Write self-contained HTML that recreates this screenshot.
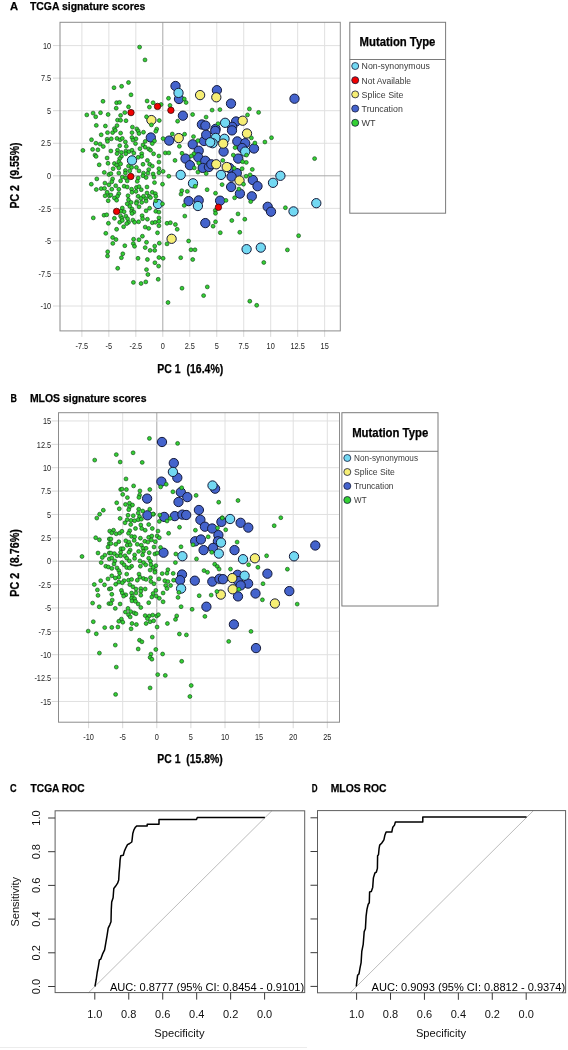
<!DOCTYPE html>
<html><head><meta charset="utf-8"><style>
html,body{margin:0;padding:0;background:#fff;}
svg{display:block;font-family:"Liberation Sans", sans-serif;filter:blur(0.4px);}
</style></head><body>
<svg width="568" height="1050" viewBox="0 0 568 1050">
<rect width="568" height="1050" fill="#fff"/>
<line x1="81.88" y1="22.3" x2="81.88" y2="330.9" stroke="#e0e0e0" stroke-width="1"/>
<line x1="81.88" y1="330.9" x2="81.88" y2="336.9" stroke="#d8d8d8" stroke-width="1"/>
<text x="81.88" y="349.3" font-size="8.8" font-weight="normal" text-anchor="middle" fill="#1e1e1e" transform="translate(81.88,0) scale(0.84,1) translate(-81.88,0)">-7.5</text>
<line x1="108.85" y1="22.3" x2="108.85" y2="330.9" stroke="#e0e0e0" stroke-width="1"/>
<line x1="108.85" y1="330.9" x2="108.85" y2="336.9" stroke="#d8d8d8" stroke-width="1"/>
<text x="108.85" y="349.3" font-size="8.8" font-weight="normal" text-anchor="middle" fill="#1e1e1e" transform="translate(108.85,0) scale(0.84,1) translate(-108.85,0)">-5</text>
<line x1="135.83" y1="22.3" x2="135.83" y2="330.9" stroke="#e0e0e0" stroke-width="1"/>
<line x1="135.83" y1="330.9" x2="135.83" y2="336.9" stroke="#d8d8d8" stroke-width="1"/>
<text x="135.83" y="349.3" font-size="8.8" font-weight="normal" text-anchor="middle" fill="#1e1e1e" transform="translate(135.83,0) scale(0.84,1) translate(-135.83,0)">-2.5</text>
<line x1="162.8" y1="22.3" x2="162.8" y2="330.9" stroke="#a8a8a8" stroke-width="1"/>
<line x1="162.8" y1="330.9" x2="162.8" y2="336.9" stroke="#d8d8d8" stroke-width="1"/>
<text x="162.8" y="349.3" font-size="8.8" font-weight="normal" text-anchor="middle" fill="#1e1e1e" transform="translate(162.8,0) scale(0.84,1) translate(-162.8,0)">0</text>
<line x1="189.78" y1="22.3" x2="189.78" y2="330.9" stroke="#e0e0e0" stroke-width="1"/>
<line x1="189.78" y1="330.9" x2="189.78" y2="336.9" stroke="#d8d8d8" stroke-width="1"/>
<text x="189.78" y="349.3" font-size="8.8" font-weight="normal" text-anchor="middle" fill="#1e1e1e" transform="translate(189.78,0) scale(0.84,1) translate(-189.78,0)">2.5</text>
<line x1="216.75" y1="22.3" x2="216.75" y2="330.9" stroke="#e0e0e0" stroke-width="1"/>
<line x1="216.75" y1="330.9" x2="216.75" y2="336.9" stroke="#d8d8d8" stroke-width="1"/>
<text x="216.75" y="349.3" font-size="8.8" font-weight="normal" text-anchor="middle" fill="#1e1e1e" transform="translate(216.75,0) scale(0.84,1) translate(-216.75,0)">5</text>
<line x1="243.73" y1="22.3" x2="243.73" y2="330.9" stroke="#e0e0e0" stroke-width="1"/>
<line x1="243.73" y1="330.9" x2="243.73" y2="336.9" stroke="#d8d8d8" stroke-width="1"/>
<text x="243.73" y="349.3" font-size="8.8" font-weight="normal" text-anchor="middle" fill="#1e1e1e" transform="translate(243.73,0) scale(0.84,1) translate(-243.73,0)">7.5</text>
<line x1="270.7" y1="22.3" x2="270.7" y2="330.9" stroke="#e0e0e0" stroke-width="1"/>
<line x1="270.7" y1="330.9" x2="270.7" y2="336.9" stroke="#d8d8d8" stroke-width="1"/>
<text x="270.7" y="349.3" font-size="8.8" font-weight="normal" text-anchor="middle" fill="#1e1e1e" transform="translate(270.7,0) scale(0.84,1) translate(-270.7,0)">10</text>
<line x1="297.68" y1="22.3" x2="297.68" y2="330.9" stroke="#e0e0e0" stroke-width="1"/>
<line x1="297.68" y1="330.9" x2="297.68" y2="336.9" stroke="#d8d8d8" stroke-width="1"/>
<text x="297.68" y="349.3" font-size="8.8" font-weight="normal" text-anchor="middle" fill="#1e1e1e" transform="translate(297.68,0) scale(0.84,1) translate(-297.68,0)">12.5</text>
<line x1="324.65" y1="22.3" x2="324.65" y2="330.9" stroke="#e0e0e0" stroke-width="1"/>
<line x1="324.65" y1="330.9" x2="324.65" y2="336.9" stroke="#d8d8d8" stroke-width="1"/>
<text x="324.65" y="349.3" font-size="8.8" font-weight="normal" text-anchor="middle" fill="#1e1e1e" transform="translate(324.65,0) scale(0.84,1) translate(-324.65,0)">15</text>
<line x1="60" y1="306" x2="340.3" y2="306" stroke="#e0e0e0" stroke-width="1"/>
<line x1="53" y1="306" x2="60" y2="306" stroke="#d8d8d8" stroke-width="1"/>
<text x="51.2" y="309.2" font-size="8.8" font-weight="normal" text-anchor="end" fill="#1e1e1e" transform="translate(51.2,0) scale(0.84,1) translate(-51.2,0)">-10</text>
<line x1="60" y1="273.45" x2="340.3" y2="273.45" stroke="#e0e0e0" stroke-width="1"/>
<line x1="53" y1="273.45" x2="60" y2="273.45" stroke="#d8d8d8" stroke-width="1"/>
<text x="51.2" y="276.65" font-size="8.8" font-weight="normal" text-anchor="end" fill="#1e1e1e" transform="translate(51.2,0) scale(0.84,1) translate(-51.2,0)">-7.5</text>
<line x1="60" y1="240.9" x2="340.3" y2="240.9" stroke="#e0e0e0" stroke-width="1"/>
<line x1="53" y1="240.9" x2="60" y2="240.9" stroke="#d8d8d8" stroke-width="1"/>
<text x="51.2" y="244.1" font-size="8.8" font-weight="normal" text-anchor="end" fill="#1e1e1e" transform="translate(51.2,0) scale(0.84,1) translate(-51.2,0)">-5</text>
<line x1="60" y1="208.35" x2="340.3" y2="208.35" stroke="#e0e0e0" stroke-width="1"/>
<line x1="53" y1="208.35" x2="60" y2="208.35" stroke="#d8d8d8" stroke-width="1"/>
<text x="51.2" y="211.55" font-size="8.8" font-weight="normal" text-anchor="end" fill="#1e1e1e" transform="translate(51.2,0) scale(0.84,1) translate(-51.2,0)">-2.5</text>
<line x1="60" y1="175.8" x2="340.3" y2="175.8" stroke="#a8a8a8" stroke-width="1"/>
<line x1="53" y1="175.8" x2="60" y2="175.8" stroke="#d8d8d8" stroke-width="1"/>
<text x="51.2" y="179" font-size="8.8" font-weight="normal" text-anchor="end" fill="#1e1e1e" transform="translate(51.2,0) scale(0.84,1) translate(-51.2,0)">0</text>
<line x1="60" y1="143.25" x2="340.3" y2="143.25" stroke="#e0e0e0" stroke-width="1"/>
<line x1="53" y1="143.25" x2="60" y2="143.25" stroke="#d8d8d8" stroke-width="1"/>
<text x="51.2" y="146.45" font-size="8.8" font-weight="normal" text-anchor="end" fill="#1e1e1e" transform="translate(51.2,0) scale(0.84,1) translate(-51.2,0)">2.5</text>
<line x1="60" y1="110.7" x2="340.3" y2="110.7" stroke="#e0e0e0" stroke-width="1"/>
<line x1="53" y1="110.7" x2="60" y2="110.7" stroke="#d8d8d8" stroke-width="1"/>
<text x="51.2" y="113.9" font-size="8.8" font-weight="normal" text-anchor="end" fill="#1e1e1e" transform="translate(51.2,0) scale(0.84,1) translate(-51.2,0)">5</text>
<line x1="60" y1="78.15" x2="340.3" y2="78.15" stroke="#e0e0e0" stroke-width="1"/>
<line x1="53" y1="78.15" x2="60" y2="78.15" stroke="#d8d8d8" stroke-width="1"/>
<text x="51.2" y="81.35" font-size="8.8" font-weight="normal" text-anchor="end" fill="#1e1e1e" transform="translate(51.2,0) scale(0.84,1) translate(-51.2,0)">7.5</text>
<line x1="60" y1="45.6" x2="340.3" y2="45.6" stroke="#e0e0e0" stroke-width="1"/>
<line x1="53" y1="45.6" x2="60" y2="45.6" stroke="#d8d8d8" stroke-width="1"/>
<text x="51.2" y="48.8" font-size="8.8" font-weight="normal" text-anchor="end" fill="#1e1e1e" transform="translate(51.2,0) scale(0.84,1) translate(-51.2,0)">10</text>
<rect x="60" y="22.3" width="280.3" height="308.6" fill="none" stroke="#8c8c8c" stroke-width="1"/>
<circle cx="175.5" cy="86" r="4.65" fill="#4463cc" stroke="#151a3a" stroke-width="1.0"/>
<circle cx="179" cy="99" r="4.65" fill="#4463cc" stroke="#151a3a" stroke-width="1.0"/>
<circle cx="216.9" cy="90.2" r="4.65" fill="#4463cc" stroke="#151a3a" stroke-width="1.0"/>
<circle cx="231" cy="103.6" r="4.65" fill="#4463cc" stroke="#151a3a" stroke-width="1.0"/>
<circle cx="182.9" cy="115.7" r="4.65" fill="#4463cc" stroke="#151a3a" stroke-width="1.0"/>
<circle cx="201.9" cy="124.5" r="4.65" fill="#4463cc" stroke="#151a3a" stroke-width="1.0"/>
<circle cx="205.4" cy="125.6" r="4.65" fill="#4463cc" stroke="#151a3a" stroke-width="1.0"/>
<circle cx="236.1" cy="121.5" r="4.65" fill="#4463cc" stroke="#151a3a" stroke-width="1.0"/>
<circle cx="232.2" cy="126.8" r="4.65" fill="#4463cc" stroke="#151a3a" stroke-width="1.0"/>
<circle cx="215.6" cy="128.9" r="4.65" fill="#4463cc" stroke="#151a3a" stroke-width="1.0"/>
<circle cx="294.5" cy="98.7" r="4.65" fill="#4463cc" stroke="#151a3a" stroke-width="1.0"/>
<circle cx="150.8" cy="137.5" r="4.65" fill="#4463cc" stroke="#151a3a" stroke-width="1.0"/>
<circle cx="169.2" cy="140.6" r="4.65" fill="#4463cc" stroke="#151a3a" stroke-width="1.0"/>
<circle cx="192.7" cy="144.3" r="4.65" fill="#4463cc" stroke="#151a3a" stroke-width="1.0"/>
<circle cx="204" cy="141" r="4.65" fill="#4463cc" stroke="#151a3a" stroke-width="1.0"/>
<circle cx="206.2" cy="134.8" r="4.65" fill="#4463cc" stroke="#151a3a" stroke-width="1.0"/>
<circle cx="198.7" cy="150.7" r="4.65" fill="#4463cc" stroke="#151a3a" stroke-width="1.0"/>
<circle cx="185.5" cy="158.6" r="4.65" fill="#4463cc" stroke="#151a3a" stroke-width="1.0"/>
<circle cx="198.3" cy="157.3" r="4.65" fill="#4463cc" stroke="#151a3a" stroke-width="1.0"/>
<circle cx="205.3" cy="160.8" r="4.65" fill="#4463cc" stroke="#151a3a" stroke-width="1.0"/>
<circle cx="189.9" cy="165.2" r="4.65" fill="#4463cc" stroke="#151a3a" stroke-width="1.0"/>
<circle cx="202.7" cy="167.9" r="4.65" fill="#4463cc" stroke="#151a3a" stroke-width="1.0"/>
<circle cx="215.3" cy="130.9" r="4.65" fill="#4463cc" stroke="#151a3a" stroke-width="1.0"/>
<circle cx="232" cy="130.4" r="4.65" fill="#4463cc" stroke="#151a3a" stroke-width="1.0"/>
<circle cx="223.6" cy="151.6" r="4.65" fill="#4463cc" stroke="#151a3a" stroke-width="1.0"/>
<circle cx="237.3" cy="141.4" r="4.65" fill="#4463cc" stroke="#151a3a" stroke-width="1.0"/>
<circle cx="245.2" cy="143.2" r="4.65" fill="#4463cc" stroke="#151a3a" stroke-width="1.0"/>
<circle cx="242.1" cy="148" r="4.65" fill="#4463cc" stroke="#151a3a" stroke-width="1.0"/>
<circle cx="254" cy="148.5" r="4.65" fill="#4463cc" stroke="#151a3a" stroke-width="1.0"/>
<circle cx="238.2" cy="158.6" r="4.65" fill="#4463cc" stroke="#151a3a" stroke-width="1.0"/>
<circle cx="208.9" cy="167" r="4.65" fill="#4463cc" stroke="#151a3a" stroke-width="1.0"/>
<circle cx="211.3" cy="164.3" r="4.65" fill="#4463cc" stroke="#151a3a" stroke-width="1.0"/>
<circle cx="229.4" cy="167.9" r="4.65" fill="#4463cc" stroke="#151a3a" stroke-width="1.0"/>
<circle cx="236.8" cy="173.1" r="4.65" fill="#4463cc" stroke="#151a3a" stroke-width="1.0"/>
<circle cx="231.6" cy="176.7" r="4.65" fill="#4463cc" stroke="#151a3a" stroke-width="1.0"/>
<circle cx="252.8" cy="180" r="4.65" fill="#4463cc" stroke="#151a3a" stroke-width="1.0"/>
<circle cx="188.6" cy="201.1" r="4.65" fill="#4463cc" stroke="#151a3a" stroke-width="1.0"/>
<circle cx="198.7" cy="200.4" r="4.65" fill="#4463cc" stroke="#151a3a" stroke-width="1.0"/>
<circle cx="205.3" cy="223.1" r="4.65" fill="#4463cc" stroke="#151a3a" stroke-width="1.0"/>
<circle cx="231.1" cy="187" r="4.65" fill="#4463cc" stroke="#151a3a" stroke-width="1.0"/>
<circle cx="239.9" cy="193.6" r="4.65" fill="#4463cc" stroke="#151a3a" stroke-width="1.0"/>
<circle cx="257.5" cy="186.2" r="4.65" fill="#4463cc" stroke="#151a3a" stroke-width="1.0"/>
<circle cx="251.8" cy="196.3" r="4.65" fill="#4463cc" stroke="#151a3a" stroke-width="1.0"/>
<circle cx="220.1" cy="200.7" r="4.65" fill="#4463cc" stroke="#151a3a" stroke-width="1.0"/>
<circle cx="267.7" cy="206.8" r="4.65" fill="#4463cc" stroke="#151a3a" stroke-width="1.0"/>
<circle cx="271" cy="211.7" r="4.65" fill="#4463cc" stroke="#151a3a" stroke-width="1.0"/>
<circle cx="178.5" cy="92.9" r="4.65" fill="#72d8f2" stroke="#151a3a" stroke-width="1.0"/>
<circle cx="225.1" cy="122.8" r="4.65" fill="#72d8f2" stroke="#151a3a" stroke-width="1.0"/>
<circle cx="132" cy="160.4" r="4.65" fill="#72d8f2" stroke="#151a3a" stroke-width="1.0"/>
<circle cx="158" cy="204" r="4.65" fill="#72d8f2" stroke="#151a3a" stroke-width="1.0"/>
<circle cx="180.7" cy="174.9" r="4.65" fill="#72d8f2" stroke="#151a3a" stroke-width="1.0"/>
<circle cx="215.7" cy="137.9" r="4.65" fill="#72d8f2" stroke="#151a3a" stroke-width="1.0"/>
<circle cx="224.5" cy="138.8" r="4.65" fill="#72d8f2" stroke="#151a3a" stroke-width="1.0"/>
<circle cx="212.6" cy="143.2" r="4.65" fill="#72d8f2" stroke="#151a3a" stroke-width="1.0"/>
<circle cx="210.2" cy="142.3" r="4.65" fill="#72d8f2" stroke="#151a3a" stroke-width="1.0"/>
<circle cx="245.2" cy="151.6" r="4.65" fill="#72d8f2" stroke="#151a3a" stroke-width="1.0"/>
<circle cx="221" cy="174.9" r="4.65" fill="#72d8f2" stroke="#151a3a" stroke-width="1.0"/>
<circle cx="193" cy="183.3" r="4.65" fill="#72d8f2" stroke="#151a3a" stroke-width="1.0"/>
<circle cx="197.9" cy="206" r="4.65" fill="#72d8f2" stroke="#151a3a" stroke-width="1.0"/>
<circle cx="280.4" cy="175.8" r="4.65" fill="#72d8f2" stroke="#151a3a" stroke-width="1.0"/>
<circle cx="273" cy="182.8" r="4.65" fill="#72d8f2" stroke="#151a3a" stroke-width="1.0"/>
<circle cx="316.3" cy="203.2" r="4.65" fill="#72d8f2" stroke="#151a3a" stroke-width="1.0"/>
<circle cx="293.5" cy="211.4" r="4.65" fill="#72d8f2" stroke="#151a3a" stroke-width="1.0"/>
<circle cx="246.6" cy="249.2" r="4.65" fill="#72d8f2" stroke="#151a3a" stroke-width="1.0"/>
<circle cx="260.8" cy="247.6" r="4.65" fill="#72d8f2" stroke="#151a3a" stroke-width="1.0"/>
<circle cx="200.1" cy="95.1" r="4.65" fill="#f6ee74" stroke="#151a3a" stroke-width="1.0"/>
<circle cx="216.3" cy="97.3" r="4.65" fill="#f6ee74" stroke="#151a3a" stroke-width="1.0"/>
<circle cx="242.7" cy="120.7" r="4.65" fill="#f6ee74" stroke="#151a3a" stroke-width="1.0"/>
<circle cx="151.4" cy="120.1" r="4.65" fill="#f6ee74" stroke="#151a3a" stroke-width="1.0"/>
<circle cx="178.7" cy="138.1" r="4.65" fill="#f6ee74" stroke="#151a3a" stroke-width="1.0"/>
<circle cx="247" cy="133.5" r="4.65" fill="#f6ee74" stroke="#151a3a" stroke-width="1.0"/>
<circle cx="223.2" cy="143.6" r="4.65" fill="#f6ee74" stroke="#151a3a" stroke-width="1.0"/>
<circle cx="216.2" cy="164.3" r="4.65" fill="#f6ee74" stroke="#151a3a" stroke-width="1.0"/>
<circle cx="226.7" cy="167" r="4.65" fill="#f6ee74" stroke="#151a3a" stroke-width="1.0"/>
<circle cx="239.5" cy="180.5" r="4.65" fill="#f6ee74" stroke="#151a3a" stroke-width="1.0"/>
<circle cx="171.6" cy="238.8" r="4.65" fill="#f6ee74" stroke="#151a3a" stroke-width="1.0"/>
<circle cx="139.6" cy="47.1" r="1.95" fill="#33d033" stroke="#14481a" stroke-width="0.65"/>
<circle cx="145" cy="59.9" r="1.95" fill="#33d033" stroke="#14481a" stroke-width="0.65"/>
<circle cx="128.5" cy="82.5" r="1.95" fill="#33d033" stroke="#14481a" stroke-width="0.65"/>
<circle cx="121.6" cy="86.3" r="1.95" fill="#33d033" stroke="#14481a" stroke-width="0.65"/>
<circle cx="114" cy="87.7" r="1.95" fill="#33d033" stroke="#14481a" stroke-width="0.65"/>
<circle cx="131" cy="94.8" r="1.95" fill="#33d033" stroke="#14481a" stroke-width="0.65"/>
<circle cx="103" cy="101.3" r="1.95" fill="#33d033" stroke="#14481a" stroke-width="0.65"/>
<circle cx="116.6" cy="102.7" r="1.95" fill="#33d033" stroke="#14481a" stroke-width="0.65"/>
<circle cx="119.5" cy="102.4" r="1.95" fill="#33d033" stroke="#14481a" stroke-width="0.65"/>
<circle cx="128.5" cy="106.8" r="1.95" fill="#33d033" stroke="#14481a" stroke-width="0.65"/>
<circle cx="116.2" cy="108.2" r="1.95" fill="#33d033" stroke="#14481a" stroke-width="0.65"/>
<circle cx="124.8" cy="112.6" r="1.95" fill="#33d033" stroke="#14481a" stroke-width="0.65"/>
<circle cx="120.6" cy="115.4" r="1.95" fill="#33d033" stroke="#14481a" stroke-width="0.65"/>
<circle cx="117.5" cy="120.1" r="1.95" fill="#33d033" stroke="#14481a" stroke-width="0.65"/>
<circle cx="120.6" cy="120.3" r="1.95" fill="#33d033" stroke="#14481a" stroke-width="0.65"/>
<circle cx="126" cy="120.7" r="1.95" fill="#33d033" stroke="#14481a" stroke-width="0.65"/>
<circle cx="117" cy="125.6" r="1.95" fill="#33d033" stroke="#14481a" stroke-width="0.65"/>
<circle cx="114.4" cy="128.6" r="1.95" fill="#33d033" stroke="#14481a" stroke-width="0.65"/>
<circle cx="132.4" cy="127.1" r="1.95" fill="#33d033" stroke="#14481a" stroke-width="0.65"/>
<circle cx="136.8" cy="128.9" r="1.95" fill="#33d033" stroke="#14481a" stroke-width="0.65"/>
<circle cx="147.1" cy="101" r="1.95" fill="#33d033" stroke="#14481a" stroke-width="0.65"/>
<circle cx="153.1" cy="102.7" r="1.95" fill="#33d033" stroke="#14481a" stroke-width="0.65"/>
<circle cx="149.4" cy="107.1" r="1.95" fill="#33d033" stroke="#14481a" stroke-width="0.65"/>
<circle cx="146.5" cy="116.8" r="1.95" fill="#33d033" stroke="#14481a" stroke-width="0.65"/>
<circle cx="151.4" cy="124.9" r="1.95" fill="#33d033" stroke="#14481a" stroke-width="0.65"/>
<circle cx="156.7" cy="129.1" r="1.95" fill="#33d033" stroke="#14481a" stroke-width="0.65"/>
<circle cx="159.3" cy="120.5" r="1.95" fill="#33d033" stroke="#14481a" stroke-width="0.65"/>
<circle cx="86.8" cy="114.9" r="1.95" fill="#33d033" stroke="#14481a" stroke-width="0.65"/>
<circle cx="93.1" cy="113.1" r="1.95" fill="#33d033" stroke="#14481a" stroke-width="0.65"/>
<circle cx="95.7" cy="116.8" r="1.95" fill="#33d033" stroke="#14481a" stroke-width="0.65"/>
<circle cx="100.5" cy="112.7" r="1.95" fill="#33d033" stroke="#14481a" stroke-width="0.65"/>
<circle cx="108.1" cy="114.5" r="1.95" fill="#33d033" stroke="#14481a" stroke-width="0.65"/>
<circle cx="96.3" cy="125.4" r="1.95" fill="#33d033" stroke="#14481a" stroke-width="0.65"/>
<circle cx="105.4" cy="126" r="1.95" fill="#33d033" stroke="#14481a" stroke-width="0.65"/>
<circle cx="168.5" cy="98.3" r="1.95" fill="#33d033" stroke="#14481a" stroke-width="0.65"/>
<circle cx="184.3" cy="99" r="1.95" fill="#33d033" stroke="#14481a" stroke-width="0.65"/>
<circle cx="186.1" cy="102.5" r="1.95" fill="#33d033" stroke="#14481a" stroke-width="0.65"/>
<circle cx="170" cy="105.4" r="1.95" fill="#33d033" stroke="#14481a" stroke-width="0.65"/>
<circle cx="161.1" cy="104.5" r="1.95" fill="#33d033" stroke="#14481a" stroke-width="0.65"/>
<circle cx="177.6" cy="121.2" r="1.95" fill="#33d033" stroke="#14481a" stroke-width="0.65"/>
<circle cx="192.6" cy="114.5" r="1.95" fill="#33d033" stroke="#14481a" stroke-width="0.65"/>
<circle cx="206.1" cy="117.1" r="1.95" fill="#33d033" stroke="#14481a" stroke-width="0.65"/>
<circle cx="212.1" cy="110.1" r="1.95" fill="#33d033" stroke="#14481a" stroke-width="0.65"/>
<circle cx="219.9" cy="109.6" r="1.95" fill="#33d033" stroke="#14481a" stroke-width="0.65"/>
<circle cx="218.1" cy="123.7" r="1.95" fill="#33d033" stroke="#14481a" stroke-width="0.65"/>
<circle cx="249.4" cy="108.9" r="1.95" fill="#33d033" stroke="#14481a" stroke-width="0.65"/>
<circle cx="247.5" cy="114.9" r="1.95" fill="#33d033" stroke="#14481a" stroke-width="0.65"/>
<circle cx="258.6" cy="112.4" r="1.95" fill="#33d033" stroke="#14481a" stroke-width="0.65"/>
<circle cx="107.5" cy="132.6" r="1.95" fill="#33d033" stroke="#14481a" stroke-width="0.65"/>
<circle cx="101.2" cy="134.8" r="1.95" fill="#33d033" stroke="#14481a" stroke-width="0.65"/>
<circle cx="91.5" cy="139.7" r="1.95" fill="#33d033" stroke="#14481a" stroke-width="0.65"/>
<circle cx="107.1" cy="139.2" r="1.95" fill="#33d033" stroke="#14481a" stroke-width="0.65"/>
<circle cx="107.5" cy="141.4" r="1.95" fill="#33d033" stroke="#14481a" stroke-width="0.65"/>
<circle cx="95.9" cy="143.2" r="1.95" fill="#33d033" stroke="#14481a" stroke-width="0.65"/>
<circle cx="100.1" cy="144.1" r="1.95" fill="#33d033" stroke="#14481a" stroke-width="0.65"/>
<circle cx="103.3" cy="146.5" r="1.95" fill="#33d033" stroke="#14481a" stroke-width="0.65"/>
<circle cx="82.9" cy="150.4" r="1.95" fill="#33d033" stroke="#14481a" stroke-width="0.65"/>
<circle cx="92.6" cy="149.4" r="1.95" fill="#33d033" stroke="#14481a" stroke-width="0.65"/>
<circle cx="97.9" cy="149.8" r="1.95" fill="#33d033" stroke="#14481a" stroke-width="0.65"/>
<circle cx="95" cy="155.1" r="1.95" fill="#33d033" stroke="#14481a" stroke-width="0.65"/>
<circle cx="96.1" cy="156.4" r="1.95" fill="#33d033" stroke="#14481a" stroke-width="0.65"/>
<circle cx="107.1" cy="158" r="1.95" fill="#33d033" stroke="#14481a" stroke-width="0.65"/>
<circle cx="108" cy="163.3" r="1.95" fill="#33d033" stroke="#14481a" stroke-width="0.65"/>
<circle cx="99.2" cy="164.8" r="1.95" fill="#33d033" stroke="#14481a" stroke-width="0.65"/>
<circle cx="104.3" cy="172.4" r="1.95" fill="#33d033" stroke="#14481a" stroke-width="0.65"/>
<circle cx="108.9" cy="174.5" r="1.95" fill="#33d033" stroke="#14481a" stroke-width="0.65"/>
<circle cx="96.8" cy="178.9" r="1.95" fill="#33d033" stroke="#14481a" stroke-width="0.65"/>
<circle cx="112.6" cy="132.6" r="1.95" fill="#33d033" stroke="#14481a" stroke-width="0.65"/>
<circle cx="115.3" cy="130.4" r="1.95" fill="#33d033" stroke="#14481a" stroke-width="0.65"/>
<circle cx="120.6" cy="133.1" r="1.95" fill="#33d033" stroke="#14481a" stroke-width="0.65"/>
<circle cx="132" cy="132.6" r="1.95" fill="#33d033" stroke="#14481a" stroke-width="0.65"/>
<circle cx="138.2" cy="130.9" r="1.95" fill="#33d033" stroke="#14481a" stroke-width="0.65"/>
<circle cx="139" cy="133.5" r="1.95" fill="#33d033" stroke="#14481a" stroke-width="0.65"/>
<circle cx="143.5" cy="132.2" r="1.95" fill="#33d033" stroke="#14481a" stroke-width="0.65"/>
<circle cx="155.8" cy="131.3" r="1.95" fill="#33d033" stroke="#14481a" stroke-width="0.65"/>
<circle cx="111.3" cy="138.8" r="1.95" fill="#33d033" stroke="#14481a" stroke-width="0.65"/>
<circle cx="117" cy="138.4" r="1.95" fill="#33d033" stroke="#14481a" stroke-width="0.65"/>
<circle cx="120.1" cy="139.7" r="1.95" fill="#33d033" stroke="#14481a" stroke-width="0.65"/>
<circle cx="122.3" cy="138.4" r="1.95" fill="#33d033" stroke="#14481a" stroke-width="0.65"/>
<circle cx="132" cy="137.5" r="1.95" fill="#33d033" stroke="#14481a" stroke-width="0.65"/>
<circle cx="136" cy="138.8" r="1.95" fill="#33d033" stroke="#14481a" stroke-width="0.65"/>
<circle cx="132.9" cy="140.1" r="1.95" fill="#33d033" stroke="#14481a" stroke-width="0.65"/>
<circle cx="125.4" cy="141.9" r="1.95" fill="#33d033" stroke="#14481a" stroke-width="0.65"/>
<circle cx="145.2" cy="141.4" r="1.95" fill="#33d033" stroke="#14481a" stroke-width="0.65"/>
<circle cx="154.5" cy="141" r="1.95" fill="#33d033" stroke="#14481a" stroke-width="0.65"/>
<circle cx="135.5" cy="143.6" r="1.95" fill="#33d033" stroke="#14481a" stroke-width="0.65"/>
<circle cx="152.3" cy="143.6" r="1.95" fill="#33d033" stroke="#14481a" stroke-width="0.65"/>
<circle cx="119.7" cy="145.7" r="1.95" fill="#33d033" stroke="#14481a" stroke-width="0.65"/>
<circle cx="126.3" cy="146.3" r="1.95" fill="#33d033" stroke="#14481a" stroke-width="0.65"/>
<circle cx="143" cy="145" r="1.95" fill="#33d033" stroke="#14481a" stroke-width="0.65"/>
<circle cx="145.2" cy="147.2" r="1.95" fill="#33d033" stroke="#14481a" stroke-width="0.65"/>
<circle cx="139.9" cy="148.7" r="1.95" fill="#33d033" stroke="#14481a" stroke-width="0.65"/>
<circle cx="148.7" cy="148.9" r="1.95" fill="#33d033" stroke="#14481a" stroke-width="0.65"/>
<circle cx="150.5" cy="150.2" r="1.95" fill="#33d033" stroke="#14481a" stroke-width="0.65"/>
<circle cx="110.9" cy="151" r="1.95" fill="#33d033" stroke="#14481a" stroke-width="0.65"/>
<circle cx="117.5" cy="150.2" r="1.95" fill="#33d033" stroke="#14481a" stroke-width="0.65"/>
<circle cx="121.4" cy="152.4" r="1.95" fill="#33d033" stroke="#14481a" stroke-width="0.65"/>
<circle cx="125.8" cy="151.1" r="1.95" fill="#33d033" stroke="#14481a" stroke-width="0.65"/>
<circle cx="128.9" cy="151.6" r="1.95" fill="#33d033" stroke="#14481a" stroke-width="0.65"/>
<circle cx="132" cy="150.2" r="1.95" fill="#33d033" stroke="#14481a" stroke-width="0.65"/>
<circle cx="133.8" cy="153.1" r="1.95" fill="#33d033" stroke="#14481a" stroke-width="0.65"/>
<circle cx="117" cy="153.6" r="1.95" fill="#33d033" stroke="#14481a" stroke-width="0.65"/>
<circle cx="125.8" cy="153.8" r="1.95" fill="#33d033" stroke="#14481a" stroke-width="0.65"/>
<circle cx="153.6" cy="153.8" r="1.95" fill="#33d033" stroke="#14481a" stroke-width="0.65"/>
<circle cx="158.9" cy="156" r="1.95" fill="#33d033" stroke="#14481a" stroke-width="0.65"/>
<circle cx="141.7" cy="153.6" r="1.95" fill="#33d033" stroke="#14481a" stroke-width="0.65"/>
<circle cx="121.4" cy="156.4" r="1.95" fill="#33d033" stroke="#14481a" stroke-width="0.65"/>
<circle cx="138.2" cy="157.3" r="1.95" fill="#33d033" stroke="#14481a" stroke-width="0.65"/>
<circle cx="141.7" cy="156.4" r="1.95" fill="#33d033" stroke="#14481a" stroke-width="0.65"/>
<circle cx="119.7" cy="158.6" r="1.95" fill="#33d033" stroke="#14481a" stroke-width="0.65"/>
<circle cx="147.4" cy="160.4" r="1.95" fill="#33d033" stroke="#14481a" stroke-width="0.65"/>
<circle cx="118.8" cy="161.7" r="1.95" fill="#33d033" stroke="#14481a" stroke-width="0.65"/>
<circle cx="158.9" cy="162.1" r="1.95" fill="#33d033" stroke="#14481a" stroke-width="0.65"/>
<circle cx="114.4" cy="163.5" r="1.95" fill="#33d033" stroke="#14481a" stroke-width="0.65"/>
<circle cx="120.6" cy="163.9" r="1.95" fill="#33d033" stroke="#14481a" stroke-width="0.65"/>
<circle cx="143" cy="164.3" r="1.95" fill="#33d033" stroke="#14481a" stroke-width="0.65"/>
<circle cx="149.6" cy="164.3" r="1.95" fill="#33d033" stroke="#14481a" stroke-width="0.65"/>
<circle cx="152.3" cy="166.1" r="1.95" fill="#33d033" stroke="#14481a" stroke-width="0.65"/>
<circle cx="116.6" cy="165.2" r="1.95" fill="#33d033" stroke="#14481a" stroke-width="0.65"/>
<circle cx="128.5" cy="166.1" r="1.95" fill="#33d033" stroke="#14481a" stroke-width="0.65"/>
<circle cx="131.6" cy="167.4" r="1.95" fill="#33d033" stroke="#14481a" stroke-width="0.65"/>
<circle cx="136.4" cy="167.4" r="1.95" fill="#33d033" stroke="#14481a" stroke-width="0.65"/>
<circle cx="113.1" cy="168.7" r="1.95" fill="#33d033" stroke="#14481a" stroke-width="0.65"/>
<circle cx="118.8" cy="167.9" r="1.95" fill="#33d033" stroke="#14481a" stroke-width="0.65"/>
<circle cx="148.7" cy="169.6" r="1.95" fill="#33d033" stroke="#14481a" stroke-width="0.65"/>
<circle cx="158.9" cy="168.7" r="1.95" fill="#33d033" stroke="#14481a" stroke-width="0.65"/>
<circle cx="125.4" cy="170.5" r="1.95" fill="#33d033" stroke="#14481a" stroke-width="0.65"/>
<circle cx="129.8" cy="170.9" r="1.95" fill="#33d033" stroke="#14481a" stroke-width="0.65"/>
<circle cx="139" cy="170.9" r="1.95" fill="#33d033" stroke="#14481a" stroke-width="0.65"/>
<circle cx="118.8" cy="173.1" r="1.95" fill="#33d033" stroke="#14481a" stroke-width="0.65"/>
<circle cx="110.9" cy="173.6" r="1.95" fill="#33d033" stroke="#14481a" stroke-width="0.65"/>
<circle cx="143.5" cy="173.1" r="1.95" fill="#33d033" stroke="#14481a" stroke-width="0.65"/>
<circle cx="147.9" cy="173.1" r="1.95" fill="#33d033" stroke="#14481a" stroke-width="0.65"/>
<circle cx="153.1" cy="174" r="1.95" fill="#33d033" stroke="#14481a" stroke-width="0.65"/>
<circle cx="158.9" cy="172.7" r="1.95" fill="#33d033" stroke="#14481a" stroke-width="0.65"/>
<circle cx="125.4" cy="173.1" r="1.95" fill="#33d033" stroke="#14481a" stroke-width="0.65"/>
<circle cx="122.3" cy="177.1" r="1.95" fill="#33d033" stroke="#14481a" stroke-width="0.65"/>
<circle cx="138.2" cy="178" r="1.95" fill="#33d033" stroke="#14481a" stroke-width="0.65"/>
<circle cx="143" cy="175.8" r="1.95" fill="#33d033" stroke="#14481a" stroke-width="0.65"/>
<circle cx="146.1" cy="177.5" r="1.95" fill="#33d033" stroke="#14481a" stroke-width="0.65"/>
<circle cx="154" cy="177.1" r="1.95" fill="#33d033" stroke="#14481a" stroke-width="0.65"/>
<circle cx="112.6" cy="178.9" r="1.95" fill="#33d033" stroke="#14481a" stroke-width="0.65"/>
<circle cx="125.8" cy="178" r="1.95" fill="#33d033" stroke="#14481a" stroke-width="0.65"/>
<circle cx="91.3" cy="184.2" r="1.95" fill="#33d033" stroke="#14481a" stroke-width="0.65"/>
<circle cx="104.9" cy="183.1" r="1.95" fill="#33d033" stroke="#14481a" stroke-width="0.65"/>
<circle cx="108.9" cy="184.8" r="1.95" fill="#33d033" stroke="#14481a" stroke-width="0.65"/>
<circle cx="96.3" cy="189.5" r="1.95" fill="#33d033" stroke="#14481a" stroke-width="0.65"/>
<circle cx="101.2" cy="188.6" r="1.95" fill="#33d033" stroke="#14481a" stroke-width="0.65"/>
<circle cx="104.5" cy="188.4" r="1.95" fill="#33d033" stroke="#14481a" stroke-width="0.65"/>
<circle cx="107.1" cy="192.3" r="1.95" fill="#33d033" stroke="#14481a" stroke-width="0.65"/>
<circle cx="105.1" cy="195.8" r="1.95" fill="#33d033" stroke="#14481a" stroke-width="0.65"/>
<circle cx="109.3" cy="195.8" r="1.95" fill="#33d033" stroke="#14481a" stroke-width="0.65"/>
<circle cx="108.2" cy="200.7" r="1.95" fill="#33d033" stroke="#14481a" stroke-width="0.65"/>
<circle cx="93.3" cy="217.9" r="1.95" fill="#33d033" stroke="#14481a" stroke-width="0.65"/>
<circle cx="104" cy="215.2" r="1.95" fill="#33d033" stroke="#14481a" stroke-width="0.65"/>
<circle cx="106.7" cy="214.8" r="1.95" fill="#33d033" stroke="#14481a" stroke-width="0.65"/>
<circle cx="108.4" cy="223.3" r="1.95" fill="#33d033" stroke="#14481a" stroke-width="0.65"/>
<circle cx="111.8" cy="181.8" r="1.95" fill="#33d033" stroke="#14481a" stroke-width="0.65"/>
<circle cx="120.6" cy="180.9" r="1.95" fill="#33d033" stroke="#14481a" stroke-width="0.65"/>
<circle cx="127.2" cy="180.9" r="1.95" fill="#33d033" stroke="#14481a" stroke-width="0.65"/>
<circle cx="137.3" cy="181.3" r="1.95" fill="#33d033" stroke="#14481a" stroke-width="0.65"/>
<circle cx="154.5" cy="182.6" r="1.95" fill="#33d033" stroke="#14481a" stroke-width="0.65"/>
<circle cx="115.7" cy="185.7" r="1.95" fill="#33d033" stroke="#14481a" stroke-width="0.65"/>
<circle cx="124.1" cy="186.2" r="1.95" fill="#33d033" stroke="#14481a" stroke-width="0.65"/>
<circle cx="127.2" cy="187" r="1.95" fill="#33d033" stroke="#14481a" stroke-width="0.65"/>
<circle cx="111.8" cy="189.2" r="1.95" fill="#33d033" stroke="#14481a" stroke-width="0.65"/>
<circle cx="118.8" cy="189.2" r="1.95" fill="#33d033" stroke="#14481a" stroke-width="0.65"/>
<circle cx="131.6" cy="189.2" r="1.95" fill="#33d033" stroke="#14481a" stroke-width="0.65"/>
<circle cx="136.4" cy="187.5" r="1.95" fill="#33d033" stroke="#14481a" stroke-width="0.65"/>
<circle cx="139" cy="186.6" r="1.95" fill="#33d033" stroke="#14481a" stroke-width="0.65"/>
<circle cx="141.3" cy="189.7" r="1.95" fill="#33d033" stroke="#14481a" stroke-width="0.65"/>
<circle cx="147" cy="187" r="1.95" fill="#33d033" stroke="#14481a" stroke-width="0.65"/>
<circle cx="132" cy="192.3" r="1.95" fill="#33d033" stroke="#14481a" stroke-width="0.65"/>
<circle cx="136" cy="191.4" r="1.95" fill="#33d033" stroke="#14481a" stroke-width="0.65"/>
<circle cx="147" cy="193" r="1.95" fill="#33d033" stroke="#14481a" stroke-width="0.65"/>
<circle cx="152.3" cy="192.3" r="1.95" fill="#33d033" stroke="#14481a" stroke-width="0.65"/>
<circle cx="155.3" cy="193.6" r="1.95" fill="#33d033" stroke="#14481a" stroke-width="0.65"/>
<circle cx="110.9" cy="195" r="1.95" fill="#33d033" stroke="#14481a" stroke-width="0.65"/>
<circle cx="118.8" cy="193.6" r="1.95" fill="#33d033" stroke="#14481a" stroke-width="0.65"/>
<circle cx="117.5" cy="196.3" r="1.95" fill="#33d033" stroke="#14481a" stroke-width="0.65"/>
<circle cx="128" cy="195.7" r="1.95" fill="#33d033" stroke="#14481a" stroke-width="0.65"/>
<circle cx="138.2" cy="196.3" r="1.95" fill="#33d033" stroke="#14481a" stroke-width="0.65"/>
<circle cx="143.5" cy="196.3" r="1.95" fill="#33d033" stroke="#14481a" stroke-width="0.65"/>
<circle cx="149.2" cy="196.3" r="1.95" fill="#33d033" stroke="#14481a" stroke-width="0.65"/>
<circle cx="155.8" cy="196.3" r="1.95" fill="#33d033" stroke="#14481a" stroke-width="0.65"/>
<circle cx="114.4" cy="198" r="1.95" fill="#33d033" stroke="#14481a" stroke-width="0.65"/>
<circle cx="116.6" cy="200.2" r="1.95" fill="#33d033" stroke="#14481a" stroke-width="0.65"/>
<circle cx="128.5" cy="199.8" r="1.95" fill="#33d033" stroke="#14481a" stroke-width="0.65"/>
<circle cx="140.8" cy="198.5" r="1.95" fill="#33d033" stroke="#14481a" stroke-width="0.65"/>
<circle cx="145.7" cy="198.7" r="1.95" fill="#33d033" stroke="#14481a" stroke-width="0.65"/>
<circle cx="150.5" cy="197.6" r="1.95" fill="#33d033" stroke="#14481a" stroke-width="0.65"/>
<circle cx="155.8" cy="200.7" r="1.95" fill="#33d033" stroke="#14481a" stroke-width="0.65"/>
<circle cx="131.1" cy="202.4" r="1.95" fill="#33d033" stroke="#14481a" stroke-width="0.65"/>
<circle cx="136.8" cy="201.6" r="1.95" fill="#33d033" stroke="#14481a" stroke-width="0.65"/>
<circle cx="141.7" cy="202.4" r="1.95" fill="#33d033" stroke="#14481a" stroke-width="0.65"/>
<circle cx="146.1" cy="201.1" r="1.95" fill="#33d033" stroke="#14481a" stroke-width="0.65"/>
<circle cx="127.2" cy="203.8" r="1.95" fill="#33d033" stroke="#14481a" stroke-width="0.65"/>
<circle cx="136.4" cy="203.3" r="1.95" fill="#33d033" stroke="#14481a" stroke-width="0.65"/>
<circle cx="129.8" cy="206.4" r="1.95" fill="#33d033" stroke="#14481a" stroke-width="0.65"/>
<circle cx="139" cy="206.8" r="1.95" fill="#33d033" stroke="#14481a" stroke-width="0.65"/>
<circle cx="122.3" cy="208" r="1.95" fill="#33d033" stroke="#14481a" stroke-width="0.65"/>
<circle cx="132" cy="209" r="1.95" fill="#33d033" stroke="#14481a" stroke-width="0.65"/>
<circle cx="149.6" cy="208.2" r="1.95" fill="#33d033" stroke="#14481a" stroke-width="0.65"/>
<circle cx="146.1" cy="210.8" r="1.95" fill="#33d033" stroke="#14481a" stroke-width="0.65"/>
<circle cx="121" cy="211.3" r="1.95" fill="#33d033" stroke="#14481a" stroke-width="0.65"/>
<circle cx="124.1" cy="211.7" r="1.95" fill="#33d033" stroke="#14481a" stroke-width="0.65"/>
<circle cx="131.6" cy="211.3" r="1.95" fill="#33d033" stroke="#14481a" stroke-width="0.65"/>
<circle cx="133.8" cy="212.1" r="1.95" fill="#33d033" stroke="#14481a" stroke-width="0.65"/>
<circle cx="155.8" cy="211.3" r="1.95" fill="#33d033" stroke="#14481a" stroke-width="0.65"/>
<circle cx="158.9" cy="212.1" r="1.95" fill="#33d033" stroke="#14481a" stroke-width="0.65"/>
<circle cx="132" cy="213.5" r="1.95" fill="#33d033" stroke="#14481a" stroke-width="0.65"/>
<circle cx="120.6" cy="216.1" r="1.95" fill="#33d033" stroke="#14481a" stroke-width="0.65"/>
<circle cx="125.8" cy="216.1" r="1.95" fill="#33d033" stroke="#14481a" stroke-width="0.65"/>
<circle cx="142.1" cy="215.7" r="1.95" fill="#33d033" stroke="#14481a" stroke-width="0.65"/>
<circle cx="114.4" cy="218.3" r="1.95" fill="#33d033" stroke="#14481a" stroke-width="0.65"/>
<circle cx="121.9" cy="218.3" r="1.95" fill="#33d033" stroke="#14481a" stroke-width="0.65"/>
<circle cx="127.6" cy="218.7" r="1.95" fill="#33d033" stroke="#14481a" stroke-width="0.65"/>
<circle cx="142.6" cy="218.7" r="1.95" fill="#33d033" stroke="#14481a" stroke-width="0.65"/>
<circle cx="147.4" cy="219.2" r="1.95" fill="#33d033" stroke="#14481a" stroke-width="0.65"/>
<circle cx="158.9" cy="217.9" r="1.95" fill="#33d033" stroke="#14481a" stroke-width="0.65"/>
<circle cx="119.7" cy="222.3" r="1.95" fill="#33d033" stroke="#14481a" stroke-width="0.65"/>
<circle cx="122.3" cy="220.5" r="1.95" fill="#33d033" stroke="#14481a" stroke-width="0.65"/>
<circle cx="128.5" cy="222.3" r="1.95" fill="#33d033" stroke="#14481a" stroke-width="0.65"/>
<circle cx="132.9" cy="220.1" r="1.95" fill="#33d033" stroke="#14481a" stroke-width="0.65"/>
<circle cx="134.6" cy="222.3" r="1.95" fill="#33d033" stroke="#14481a" stroke-width="0.65"/>
<circle cx="138.6" cy="221.8" r="1.95" fill="#33d033" stroke="#14481a" stroke-width="0.65"/>
<circle cx="152.3" cy="222.7" r="1.95" fill="#33d033" stroke="#14481a" stroke-width="0.65"/>
<circle cx="155.3" cy="222.3" r="1.95" fill="#33d033" stroke="#14481a" stroke-width="0.65"/>
<circle cx="126.7" cy="223.6" r="1.95" fill="#33d033" stroke="#14481a" stroke-width="0.65"/>
<circle cx="158.9" cy="221.4" r="1.95" fill="#33d033" stroke="#14481a" stroke-width="0.65"/>
<circle cx="123.6" cy="226.7" r="1.95" fill="#33d033" stroke="#14481a" stroke-width="0.65"/>
<circle cx="145.2" cy="227.1" r="1.95" fill="#33d033" stroke="#14481a" stroke-width="0.65"/>
<circle cx="148.7" cy="228.4" r="1.95" fill="#33d033" stroke="#14481a" stroke-width="0.65"/>
<circle cx="116.6" cy="229.3" r="1.95" fill="#33d033" stroke="#14481a" stroke-width="0.65"/>
<circle cx="158.9" cy="225.8" r="1.95" fill="#33d033" stroke="#14481a" stroke-width="0.65"/>
<circle cx="172.3" cy="134" r="1.95" fill="#33d033" stroke="#14481a" stroke-width="0.65"/>
<circle cx="184.6" cy="134.2" r="1.95" fill="#33d033" stroke="#14481a" stroke-width="0.65"/>
<circle cx="163.1" cy="138.6" r="1.95" fill="#33d033" stroke="#14481a" stroke-width="0.65"/>
<circle cx="193.5" cy="136.6" r="1.95" fill="#33d033" stroke="#14481a" stroke-width="0.65"/>
<circle cx="197.9" cy="140.6" r="1.95" fill="#33d033" stroke="#14481a" stroke-width="0.65"/>
<circle cx="179.4" cy="146.3" r="1.95" fill="#33d033" stroke="#14481a" stroke-width="0.65"/>
<circle cx="165.3" cy="152.9" r="1.95" fill="#33d033" stroke="#14481a" stroke-width="0.65"/>
<circle cx="168.8" cy="152.9" r="1.95" fill="#33d033" stroke="#14481a" stroke-width="0.65"/>
<circle cx="182" cy="153.3" r="1.95" fill="#33d033" stroke="#14481a" stroke-width="0.65"/>
<circle cx="193.9" cy="153.8" r="1.95" fill="#33d033" stroke="#14481a" stroke-width="0.65"/>
<circle cx="191.3" cy="156" r="1.95" fill="#33d033" stroke="#14481a" stroke-width="0.65"/>
<circle cx="175" cy="160.4" r="1.95" fill="#33d033" stroke="#14481a" stroke-width="0.65"/>
<circle cx="194.3" cy="167.9" r="1.95" fill="#33d033" stroke="#14481a" stroke-width="0.65"/>
<circle cx="198.7" cy="163" r="1.95" fill="#33d033" stroke="#14481a" stroke-width="0.65"/>
<circle cx="163.1" cy="171.4" r="1.95" fill="#33d033" stroke="#14481a" stroke-width="0.65"/>
<circle cx="197.9" cy="172.1" r="1.95" fill="#33d033" stroke="#14481a" stroke-width="0.65"/>
<circle cx="206.2" cy="173.6" r="1.95" fill="#33d033" stroke="#14481a" stroke-width="0.65"/>
<circle cx="168.8" cy="176.2" r="1.95" fill="#33d033" stroke="#14481a" stroke-width="0.65"/>
<circle cx="251.4" cy="137.9" r="1.95" fill="#33d033" stroke="#14481a" stroke-width="0.65"/>
<circle cx="254.9" cy="143" r="1.95" fill="#33d033" stroke="#14481a" stroke-width="0.65"/>
<circle cx="235.1" cy="147.6" r="1.95" fill="#33d033" stroke="#14481a" stroke-width="0.65"/>
<circle cx="233.3" cy="155.1" r="1.95" fill="#33d033" stroke="#14481a" stroke-width="0.65"/>
<circle cx="246.5" cy="155.1" r="1.95" fill="#33d033" stroke="#14481a" stroke-width="0.65"/>
<circle cx="222.8" cy="160.4" r="1.95" fill="#33d033" stroke="#14481a" stroke-width="0.65"/>
<circle cx="242.6" cy="161.7" r="1.95" fill="#33d033" stroke="#14481a" stroke-width="0.65"/>
<circle cx="246.3" cy="162.4" r="1.95" fill="#33d033" stroke="#14481a" stroke-width="0.65"/>
<circle cx="234.2" cy="168.3" r="1.95" fill="#33d033" stroke="#14481a" stroke-width="0.65"/>
<circle cx="242.1" cy="168.7" r="1.95" fill="#33d033" stroke="#14481a" stroke-width="0.65"/>
<circle cx="252.3" cy="169.4" r="1.95" fill="#33d033" stroke="#14481a" stroke-width="0.65"/>
<circle cx="246.1" cy="176.2" r="1.95" fill="#33d033" stroke="#14481a" stroke-width="0.65"/>
<circle cx="250.1" cy="174.9" r="1.95" fill="#33d033" stroke="#14481a" stroke-width="0.65"/>
<circle cx="264.9" cy="142" r="1.95" fill="#33d033" stroke="#14481a" stroke-width="0.65"/>
<circle cx="271.5" cy="137.7" r="1.95" fill="#33d033" stroke="#14481a" stroke-width="0.65"/>
<circle cx="314.6" cy="158.6" r="1.95" fill="#33d033" stroke="#14481a" stroke-width="0.65"/>
<circle cx="285.4" cy="207.7" r="1.95" fill="#33d033" stroke="#14481a" stroke-width="0.65"/>
<circle cx="162.5" cy="184.2" r="1.95" fill="#33d033" stroke="#14481a" stroke-width="0.65"/>
<circle cx="195.2" cy="186.3" r="1.95" fill="#33d033" stroke="#14481a" stroke-width="0.65"/>
<circle cx="207.1" cy="189.7" r="1.95" fill="#33d033" stroke="#14481a" stroke-width="0.65"/>
<circle cx="181.8" cy="190.7" r="1.95" fill="#33d033" stroke="#14481a" stroke-width="0.65"/>
<circle cx="187.3" cy="191.4" r="1.95" fill="#33d033" stroke="#14481a" stroke-width="0.65"/>
<circle cx="181" cy="194.1" r="1.95" fill="#33d033" stroke="#14481a" stroke-width="0.65"/>
<circle cx="162.5" cy="203.9" r="1.95" fill="#33d033" stroke="#14481a" stroke-width="0.65"/>
<circle cx="184.2" cy="205.4" r="1.95" fill="#33d033" stroke="#14481a" stroke-width="0.65"/>
<circle cx="184.8" cy="216.1" r="1.95" fill="#33d033" stroke="#14481a" stroke-width="0.65"/>
<circle cx="167" cy="223.3" r="1.95" fill="#33d033" stroke="#14481a" stroke-width="0.65"/>
<circle cx="170.4" cy="222.7" r="1.95" fill="#33d033" stroke="#14481a" stroke-width="0.65"/>
<circle cx="175.4" cy="224.5" r="1.95" fill="#33d033" stroke="#14481a" stroke-width="0.65"/>
<circle cx="177.2" cy="229.3" r="1.95" fill="#33d033" stroke="#14481a" stroke-width="0.65"/>
<circle cx="222.1" cy="184.6" r="1.95" fill="#33d033" stroke="#14481a" stroke-width="0.65"/>
<circle cx="243.5" cy="184.2" r="1.95" fill="#33d033" stroke="#14481a" stroke-width="0.65"/>
<circle cx="238.9" cy="189" r="1.95" fill="#33d033" stroke="#14481a" stroke-width="0.65"/>
<circle cx="215.5" cy="193.2" r="1.95" fill="#33d033" stroke="#14481a" stroke-width="0.65"/>
<circle cx="234.6" cy="197.8" r="1.95" fill="#33d033" stroke="#14481a" stroke-width="0.65"/>
<circle cx="226" cy="200.4" r="1.95" fill="#33d033" stroke="#14481a" stroke-width="0.65"/>
<circle cx="250.7" cy="201.6" r="1.95" fill="#33d033" stroke="#14481a" stroke-width="0.65"/>
<circle cx="215.3" cy="210.4" r="1.95" fill="#33d033" stroke="#14481a" stroke-width="0.65"/>
<circle cx="215.5" cy="213.3" r="1.95" fill="#33d033" stroke="#14481a" stroke-width="0.65"/>
<circle cx="238" cy="213.9" r="1.95" fill="#33d033" stroke="#14481a" stroke-width="0.65"/>
<circle cx="244.8" cy="219.2" r="1.95" fill="#33d033" stroke="#14481a" stroke-width="0.65"/>
<circle cx="231.8" cy="220.5" r="1.95" fill="#33d033" stroke="#14481a" stroke-width="0.65"/>
<circle cx="215.5" cy="221.8" r="1.95" fill="#33d033" stroke="#14481a" stroke-width="0.65"/>
<circle cx="213.1" cy="226.2" r="1.95" fill="#33d033" stroke="#14481a" stroke-width="0.65"/>
<circle cx="105.8" cy="233.3" r="1.95" fill="#33d033" stroke="#14481a" stroke-width="0.65"/>
<circle cx="107.7" cy="251.8" r="1.95" fill="#33d033" stroke="#14481a" stroke-width="0.65"/>
<circle cx="107.5" cy="256" r="1.95" fill="#33d033" stroke="#14481a" stroke-width="0.65"/>
<circle cx="157.5" cy="232.8" r="1.95" fill="#33d033" stroke="#14481a" stroke-width="0.65"/>
<circle cx="112.6" cy="237.5" r="1.95" fill="#33d033" stroke="#14481a" stroke-width="0.65"/>
<circle cx="116" cy="239.5" r="1.95" fill="#33d033" stroke="#14481a" stroke-width="0.65"/>
<circle cx="112.8" cy="243.4" r="1.95" fill="#33d033" stroke="#14481a" stroke-width="0.65"/>
<circle cx="124.8" cy="245.7" r="1.95" fill="#33d033" stroke="#14481a" stroke-width="0.65"/>
<circle cx="133.6" cy="239.2" r="1.95" fill="#33d033" stroke="#14481a" stroke-width="0.65"/>
<circle cx="138.9" cy="239.7" r="1.95" fill="#33d033" stroke="#14481a" stroke-width="0.65"/>
<circle cx="142.4" cy="236.2" r="1.95" fill="#33d033" stroke="#14481a" stroke-width="0.65"/>
<circle cx="133.3" cy="243.6" r="1.95" fill="#33d033" stroke="#14481a" stroke-width="0.65"/>
<circle cx="134.5" cy="246.3" r="1.95" fill="#33d033" stroke="#14481a" stroke-width="0.65"/>
<circle cx="146.5" cy="242.3" r="1.95" fill="#33d033" stroke="#14481a" stroke-width="0.65"/>
<circle cx="145.2" cy="247.6" r="1.95" fill="#33d033" stroke="#14481a" stroke-width="0.65"/>
<circle cx="150.1" cy="250.4" r="1.95" fill="#33d033" stroke="#14481a" stroke-width="0.65"/>
<circle cx="154.7" cy="246.1" r="1.95" fill="#33d033" stroke="#14481a" stroke-width="0.65"/>
<circle cx="154.7" cy="250.4" r="1.95" fill="#33d033" stroke="#14481a" stroke-width="0.65"/>
<circle cx="159.3" cy="243.2" r="1.95" fill="#33d033" stroke="#14481a" stroke-width="0.65"/>
<circle cx="122.8" cy="253.8" r="1.95" fill="#33d033" stroke="#14481a" stroke-width="0.65"/>
<circle cx="121.4" cy="257.7" r="1.95" fill="#33d033" stroke="#14481a" stroke-width="0.65"/>
<circle cx="138" cy="258.3" r="1.95" fill="#33d033" stroke="#14481a" stroke-width="0.65"/>
<circle cx="147.4" cy="259.5" r="1.95" fill="#33d033" stroke="#14481a" stroke-width="0.65"/>
<circle cx="158.9" cy="257.5" r="1.95" fill="#33d033" stroke="#14481a" stroke-width="0.65"/>
<circle cx="154.9" cy="262.7" r="1.95" fill="#33d033" stroke="#14481a" stroke-width="0.65"/>
<circle cx="158.6" cy="266.1" r="1.95" fill="#33d033" stroke="#14481a" stroke-width="0.65"/>
<circle cx="117.7" cy="268.3" r="1.95" fill="#33d033" stroke="#14481a" stroke-width="0.65"/>
<circle cx="146.5" cy="269.6" r="1.95" fill="#33d033" stroke="#14481a" stroke-width="0.65"/>
<circle cx="147.9" cy="274.5" r="1.95" fill="#33d033" stroke="#14481a" stroke-width="0.65"/>
<circle cx="158.2" cy="279.3" r="1.95" fill="#33d033" stroke="#14481a" stroke-width="0.65"/>
<circle cx="167" cy="243.9" r="1.95" fill="#33d033" stroke="#14481a" stroke-width="0.65"/>
<circle cx="188.6" cy="241" r="1.95" fill="#33d033" stroke="#14481a" stroke-width="0.65"/>
<circle cx="191" cy="249.8" r="1.95" fill="#33d033" stroke="#14481a" stroke-width="0.65"/>
<circle cx="195" cy="249.8" r="1.95" fill="#33d033" stroke="#14481a" stroke-width="0.65"/>
<circle cx="163.1" cy="258.3" r="1.95" fill="#33d033" stroke="#14481a" stroke-width="0.65"/>
<circle cx="180.7" cy="257.7" r="1.95" fill="#33d033" stroke="#14481a" stroke-width="0.65"/>
<circle cx="192.7" cy="259.5" r="1.95" fill="#33d033" stroke="#14481a" stroke-width="0.65"/>
<circle cx="220.3" cy="232.7" r="1.95" fill="#33d033" stroke="#14481a" stroke-width="0.65"/>
<circle cx="239.8" cy="232.3" r="1.95" fill="#33d033" stroke="#14481a" stroke-width="0.65"/>
<circle cx="298.6" cy="235.7" r="1.95" fill="#33d033" stroke="#14481a" stroke-width="0.65"/>
<circle cx="287.4" cy="249.9" r="1.95" fill="#33d033" stroke="#14481a" stroke-width="0.65"/>
<circle cx="263.8" cy="262.5" r="1.95" fill="#33d033" stroke="#14481a" stroke-width="0.65"/>
<circle cx="249.8" cy="301.2" r="1.95" fill="#33d033" stroke="#14481a" stroke-width="0.65"/>
<circle cx="256.7" cy="305.3" r="1.95" fill="#33d033" stroke="#14481a" stroke-width="0.65"/>
<circle cx="133.4" cy="282.4" r="1.95" fill="#33d033" stroke="#14481a" stroke-width="0.65"/>
<circle cx="141.1" cy="283.5" r="1.95" fill="#33d033" stroke="#14481a" stroke-width="0.65"/>
<circle cx="145.8" cy="281.9" r="1.95" fill="#33d033" stroke="#14481a" stroke-width="0.65"/>
<circle cx="182" cy="288.2" r="1.95" fill="#33d033" stroke="#14481a" stroke-width="0.65"/>
<circle cx="207.3" cy="286.9" r="1.95" fill="#33d033" stroke="#14481a" stroke-width="0.65"/>
<circle cx="203.6" cy="295.6" r="1.95" fill="#33d033" stroke="#14481a" stroke-width="0.65"/>
<circle cx="168" cy="302.5" r="1.95" fill="#33d033" stroke="#14481a" stroke-width="0.65"/>
<circle cx="131" cy="112.6" r="3.2" fill="#f00000" stroke="#3a0a0a" stroke-width="0.8"/>
<circle cx="157.5" cy="106.4" r="3.2" fill="#f00000" stroke="#3a0a0a" stroke-width="0.8"/>
<circle cx="170.9" cy="110.3" r="3.2" fill="#f00000" stroke="#3a0a0a" stroke-width="0.8"/>
<circle cx="130.8" cy="176.5" r="3.2" fill="#f00000" stroke="#3a0a0a" stroke-width="0.8"/>
<circle cx="116.6" cy="211.4" r="3.2" fill="#f00000" stroke="#3a0a0a" stroke-width="0.8"/>
<circle cx="218.4" cy="207.3" r="3.2" fill="#f00000" stroke="#3a0a0a" stroke-width="0.8"/>
<text x="9.9" y="9.6" font-size="11.6" font-weight="bold" text-anchor="start" fill="#000" stroke="#000" stroke-width="0.25" textLength="8.1" lengthAdjust="spacingAndGlyphs" >A</text>
<text x="29.9" y="9.6" font-size="11.6" font-weight="bold" text-anchor="start" fill="#000" stroke="#000" stroke-width="0.25" textLength="115.5" lengthAdjust="spacingAndGlyphs" >TCGA signature scores</text>
<text x="190.3" y="372.8" font-size="12.4" font-weight="bold" text-anchor="middle" fill="#000" stroke="#000" stroke-width="0.25" textLength="66" lengthAdjust="spacingAndGlyphs" >PC 1&#160; (16.4%)</text>
<text x="0" y="0" font-size="12.4" font-weight="bold" stroke="#000" stroke-width="0.25" text-anchor="middle" textLength="66" lengthAdjust="spacingAndGlyphs" transform="translate(18.9,175.5) rotate(-90)">PC 2&#160; (9.55%)</text>
<rect x="349.8" y="22.3" width="95.8" height="190.9" fill="#fff" stroke="#7a7a7a" stroke-width="1"/>
<line x1="349.8" y1="59.5" x2="445.6" y2="59.5" stroke="#7a7a7a" stroke-width="1"/>
<text x="397.5" y="46" font-size="12" font-weight="bold" text-anchor="middle" fill="#000" stroke="#000" stroke-width="0.25" textLength="75.8" lengthAdjust="spacingAndGlyphs" >Mutation Type</text>
<circle cx="355.2" cy="66" r="3.5" fill="#72d8f2" stroke="#151a3a" stroke-width="0.8"/>
<text x="361.6" y="69.3" font-size="9.5" font-weight="normal" text-anchor="start" fill="#3a3a3a" textLength="68.2" lengthAdjust="spacingAndGlyphs" >Non-synonymous</text>
<circle cx="355.2" cy="80.2" r="3.5" fill="#f00000" stroke="#151a3a" stroke-width="0.8"/>
<text x="361.6" y="83.5" font-size="9.5" font-weight="normal" text-anchor="start" fill="#3a3a3a" textLength="49.5" lengthAdjust="spacingAndGlyphs" >Not Available</text>
<circle cx="355.2" cy="94.4" r="3.5" fill="#f6ee74" stroke="#151a3a" stroke-width="0.8"/>
<text x="361.6" y="97.7" font-size="9.5" font-weight="normal" text-anchor="start" fill="#3a3a3a" textLength="41.8" lengthAdjust="spacingAndGlyphs" >Splice Site</text>
<circle cx="355.2" cy="108.6" r="3.5" fill="#4463cc" stroke="#151a3a" stroke-width="0.8"/>
<text x="361.6" y="111.9" font-size="9.5" font-weight="normal" text-anchor="start" fill="#3a3a3a" textLength="41.2" lengthAdjust="spacingAndGlyphs" >Truncation</text>
<circle cx="355.2" cy="122.8" r="3.5" fill="#33d033" stroke="#151a3a" stroke-width="0.8"/>
<text x="361.6" y="126.1" font-size="9.5" font-weight="normal" text-anchor="start" fill="#3a3a3a" textLength="14" lengthAdjust="spacingAndGlyphs" >WT</text>
<line x1="88.6" y1="412.7" x2="88.6" y2="722.2" stroke="#e0e0e0" stroke-width="1"/>
<line x1="88.6" y1="722.2" x2="88.6" y2="728.2" stroke="#d8d8d8" stroke-width="1"/>
<text x="88.6" y="740" font-size="8.8" font-weight="normal" text-anchor="middle" fill="#1e1e1e" transform="translate(88.6,0) scale(0.84,1) translate(-88.6,0)">-10</text>
<line x1="122.7" y1="412.7" x2="122.7" y2="722.2" stroke="#e0e0e0" stroke-width="1"/>
<line x1="122.7" y1="722.2" x2="122.7" y2="728.2" stroke="#d8d8d8" stroke-width="1"/>
<text x="122.7" y="740" font-size="8.8" font-weight="normal" text-anchor="middle" fill="#1e1e1e" transform="translate(122.7,0) scale(0.84,1) translate(-122.7,0)">-5</text>
<line x1="156.8" y1="412.7" x2="156.8" y2="722.2" stroke="#a8a8a8" stroke-width="1"/>
<line x1="156.8" y1="722.2" x2="156.8" y2="728.2" stroke="#d8d8d8" stroke-width="1"/>
<text x="156.8" y="740" font-size="8.8" font-weight="normal" text-anchor="middle" fill="#1e1e1e" transform="translate(156.8,0) scale(0.84,1) translate(-156.8,0)">0</text>
<line x1="190.9" y1="412.7" x2="190.9" y2="722.2" stroke="#e0e0e0" stroke-width="1"/>
<line x1="190.9" y1="722.2" x2="190.9" y2="728.2" stroke="#d8d8d8" stroke-width="1"/>
<text x="190.9" y="740" font-size="8.8" font-weight="normal" text-anchor="middle" fill="#1e1e1e" transform="translate(190.9,0) scale(0.84,1) translate(-190.9,0)">5</text>
<line x1="225" y1="412.7" x2="225" y2="722.2" stroke="#e0e0e0" stroke-width="1"/>
<line x1="225" y1="722.2" x2="225" y2="728.2" stroke="#d8d8d8" stroke-width="1"/>
<text x="225" y="740" font-size="8.8" font-weight="normal" text-anchor="middle" fill="#1e1e1e" transform="translate(225,0) scale(0.84,1) translate(-225,0)">10</text>
<line x1="259.1" y1="412.7" x2="259.1" y2="722.2" stroke="#e0e0e0" stroke-width="1"/>
<line x1="259.1" y1="722.2" x2="259.1" y2="728.2" stroke="#d8d8d8" stroke-width="1"/>
<text x="259.1" y="740" font-size="8.8" font-weight="normal" text-anchor="middle" fill="#1e1e1e" transform="translate(259.1,0) scale(0.84,1) translate(-259.1,0)">15</text>
<line x1="293.2" y1="412.7" x2="293.2" y2="722.2" stroke="#e0e0e0" stroke-width="1"/>
<line x1="293.2" y1="722.2" x2="293.2" y2="728.2" stroke="#d8d8d8" stroke-width="1"/>
<text x="293.2" y="740" font-size="8.8" font-weight="normal" text-anchor="middle" fill="#1e1e1e" transform="translate(293.2,0) scale(0.84,1) translate(-293.2,0)">20</text>
<line x1="327.3" y1="412.7" x2="327.3" y2="722.2" stroke="#e0e0e0" stroke-width="1"/>
<line x1="327.3" y1="722.2" x2="327.3" y2="728.2" stroke="#d8d8d8" stroke-width="1"/>
<text x="327.3" y="740" font-size="8.8" font-weight="normal" text-anchor="middle" fill="#1e1e1e" transform="translate(327.3,0) scale(0.84,1) translate(-327.3,0)">25</text>
<line x1="58.5" y1="701.45" x2="339.5" y2="701.45" stroke="#e0e0e0" stroke-width="1"/>
<line x1="51.5" y1="701.45" x2="58.5" y2="701.45" stroke="#d8d8d8" stroke-width="1"/>
<text x="51.2" y="704.65" font-size="8.8" font-weight="normal" text-anchor="end" fill="#1e1e1e" transform="translate(51.2,0) scale(0.84,1) translate(-51.2,0)">-15</text>
<line x1="58.5" y1="678.08" x2="339.5" y2="678.08" stroke="#e0e0e0" stroke-width="1"/>
<line x1="51.5" y1="678.08" x2="58.5" y2="678.08" stroke="#d8d8d8" stroke-width="1"/>
<text x="51.2" y="681.28" font-size="8.8" font-weight="normal" text-anchor="end" fill="#1e1e1e" transform="translate(51.2,0) scale(0.84,1) translate(-51.2,0)">-12.5</text>
<line x1="58.5" y1="654.7" x2="339.5" y2="654.7" stroke="#e0e0e0" stroke-width="1"/>
<line x1="51.5" y1="654.7" x2="58.5" y2="654.7" stroke="#d8d8d8" stroke-width="1"/>
<text x="51.2" y="657.9" font-size="8.8" font-weight="normal" text-anchor="end" fill="#1e1e1e" transform="translate(51.2,0) scale(0.84,1) translate(-51.2,0)">-10</text>
<line x1="58.5" y1="631.33" x2="339.5" y2="631.33" stroke="#e0e0e0" stroke-width="1"/>
<line x1="51.5" y1="631.33" x2="58.5" y2="631.33" stroke="#d8d8d8" stroke-width="1"/>
<text x="51.2" y="634.53" font-size="8.8" font-weight="normal" text-anchor="end" fill="#1e1e1e" transform="translate(51.2,0) scale(0.84,1) translate(-51.2,0)">-7.5</text>
<line x1="58.5" y1="607.95" x2="339.5" y2="607.95" stroke="#e0e0e0" stroke-width="1"/>
<line x1="51.5" y1="607.95" x2="58.5" y2="607.95" stroke="#d8d8d8" stroke-width="1"/>
<text x="51.2" y="611.15" font-size="8.8" font-weight="normal" text-anchor="end" fill="#1e1e1e" transform="translate(51.2,0) scale(0.84,1) translate(-51.2,0)">-5</text>
<line x1="58.5" y1="584.58" x2="339.5" y2="584.58" stroke="#e0e0e0" stroke-width="1"/>
<line x1="51.5" y1="584.58" x2="58.5" y2="584.58" stroke="#d8d8d8" stroke-width="1"/>
<text x="51.2" y="587.78" font-size="8.8" font-weight="normal" text-anchor="end" fill="#1e1e1e" transform="translate(51.2,0) scale(0.84,1) translate(-51.2,0)">-2.5</text>
<line x1="58.5" y1="561.2" x2="339.5" y2="561.2" stroke="#a8a8a8" stroke-width="1"/>
<line x1="51.5" y1="561.2" x2="58.5" y2="561.2" stroke="#d8d8d8" stroke-width="1"/>
<text x="51.2" y="564.4" font-size="8.8" font-weight="normal" text-anchor="end" fill="#1e1e1e" transform="translate(51.2,0) scale(0.84,1) translate(-51.2,0)">0</text>
<line x1="58.5" y1="537.83" x2="339.5" y2="537.83" stroke="#e0e0e0" stroke-width="1"/>
<line x1="51.5" y1="537.83" x2="58.5" y2="537.83" stroke="#d8d8d8" stroke-width="1"/>
<text x="51.2" y="541.03" font-size="8.8" font-weight="normal" text-anchor="end" fill="#1e1e1e" transform="translate(51.2,0) scale(0.84,1) translate(-51.2,0)">2.5</text>
<line x1="58.5" y1="514.45" x2="339.5" y2="514.45" stroke="#e0e0e0" stroke-width="1"/>
<line x1="51.5" y1="514.45" x2="58.5" y2="514.45" stroke="#d8d8d8" stroke-width="1"/>
<text x="51.2" y="517.65" font-size="8.8" font-weight="normal" text-anchor="end" fill="#1e1e1e" transform="translate(51.2,0) scale(0.84,1) translate(-51.2,0)">5</text>
<line x1="58.5" y1="491.08" x2="339.5" y2="491.08" stroke="#e0e0e0" stroke-width="1"/>
<line x1="51.5" y1="491.08" x2="58.5" y2="491.08" stroke="#d8d8d8" stroke-width="1"/>
<text x="51.2" y="494.28" font-size="8.8" font-weight="normal" text-anchor="end" fill="#1e1e1e" transform="translate(51.2,0) scale(0.84,1) translate(-51.2,0)">7.5</text>
<line x1="58.5" y1="467.7" x2="339.5" y2="467.7" stroke="#e0e0e0" stroke-width="1"/>
<line x1="51.5" y1="467.7" x2="58.5" y2="467.7" stroke="#d8d8d8" stroke-width="1"/>
<text x="51.2" y="470.9" font-size="8.8" font-weight="normal" text-anchor="end" fill="#1e1e1e" transform="translate(51.2,0) scale(0.84,1) translate(-51.2,0)">10</text>
<line x1="58.5" y1="444.33" x2="339.5" y2="444.33" stroke="#e0e0e0" stroke-width="1"/>
<line x1="51.5" y1="444.33" x2="58.5" y2="444.33" stroke="#d8d8d8" stroke-width="1"/>
<text x="51.2" y="447.53" font-size="8.8" font-weight="normal" text-anchor="end" fill="#1e1e1e" transform="translate(51.2,0) scale(0.84,1) translate(-51.2,0)">12.5</text>
<line x1="58.5" y1="420.95" x2="339.5" y2="420.95" stroke="#e0e0e0" stroke-width="1"/>
<line x1="51.5" y1="420.95" x2="58.5" y2="420.95" stroke="#d8d8d8" stroke-width="1"/>
<text x="51.2" y="424.15" font-size="8.8" font-weight="normal" text-anchor="end" fill="#1e1e1e" transform="translate(51.2,0) scale(0.84,1) translate(-51.2,0)">15</text>
<rect x="58.5" y="412.7" width="281" height="309.5" fill="none" stroke="#8c8c8c" stroke-width="1"/>
<circle cx="147.1" cy="498.6" r="4.65" fill="#4463cc" stroke="#151a3a" stroke-width="1.0"/>
<circle cx="162" cy="442" r="4.65" fill="#4463cc" stroke="#151a3a" stroke-width="1.0"/>
<circle cx="173.8" cy="463.1" r="4.65" fill="#4463cc" stroke="#151a3a" stroke-width="1.0"/>
<circle cx="177.3" cy="477.7" r="4.65" fill="#4463cc" stroke="#151a3a" stroke-width="1.0"/>
<circle cx="161.4" cy="481.6" r="4.65" fill="#4463cc" stroke="#151a3a" stroke-width="1.0"/>
<circle cx="215.1" cy="488.7" r="4.65" fill="#4463cc" stroke="#151a3a" stroke-width="1.0"/>
<circle cx="180.8" cy="492.2" r="4.65" fill="#4463cc" stroke="#151a3a" stroke-width="1.0"/>
<circle cx="187.3" cy="497.1" r="4.65" fill="#4463cc" stroke="#151a3a" stroke-width="1.0"/>
<circle cx="178.5" cy="502" r="4.65" fill="#4463cc" stroke="#151a3a" stroke-width="1.0"/>
<circle cx="198.9" cy="510" r="4.65" fill="#4463cc" stroke="#151a3a" stroke-width="1.0"/>
<circle cx="147.4" cy="515.3" r="4.65" fill="#4463cc" stroke="#151a3a" stroke-width="1.0"/>
<circle cx="164.2" cy="516.9" r="4.65" fill="#4463cc" stroke="#151a3a" stroke-width="1.0"/>
<circle cx="174.8" cy="516.1" r="4.65" fill="#4463cc" stroke="#151a3a" stroke-width="1.0"/>
<circle cx="182.4" cy="514.6" r="4.65" fill="#4463cc" stroke="#151a3a" stroke-width="1.0"/>
<circle cx="186.2" cy="515" r="4.65" fill="#4463cc" stroke="#151a3a" stroke-width="1.0"/>
<circle cx="200.4" cy="519.8" r="4.65" fill="#4463cc" stroke="#151a3a" stroke-width="1.0"/>
<circle cx="204.9" cy="526.7" r="4.65" fill="#4463cc" stroke="#151a3a" stroke-width="1.0"/>
<circle cx="195.2" cy="541.3" r="4.65" fill="#4463cc" stroke="#151a3a" stroke-width="1.0"/>
<circle cx="200.9" cy="539.5" r="4.65" fill="#4463cc" stroke="#151a3a" stroke-width="1.0"/>
<circle cx="203.6" cy="550.1" r="4.65" fill="#4463cc" stroke="#151a3a" stroke-width="1.0"/>
<circle cx="163.5" cy="552.7" r="4.65" fill="#4463cc" stroke="#151a3a" stroke-width="1.0"/>
<circle cx="221.4" cy="521.9" r="4.65" fill="#4463cc" stroke="#151a3a" stroke-width="1.0"/>
<circle cx="240.6" cy="522.8" r="4.65" fill="#4463cc" stroke="#151a3a" stroke-width="1.0"/>
<circle cx="248.3" cy="527.6" r="4.65" fill="#4463cc" stroke="#151a3a" stroke-width="1.0"/>
<circle cx="212.2" cy="528.5" r="4.65" fill="#4463cc" stroke="#151a3a" stroke-width="1.0"/>
<circle cx="218.4" cy="535.1" r="4.65" fill="#4463cc" stroke="#151a3a" stroke-width="1.0"/>
<circle cx="217.9" cy="541.3" r="4.65" fill="#4463cc" stroke="#151a3a" stroke-width="1.0"/>
<circle cx="213.1" cy="547.9" r="4.65" fill="#4463cc" stroke="#151a3a" stroke-width="1.0"/>
<circle cx="234.5" cy="550.1" r="4.65" fill="#4463cc" stroke="#151a3a" stroke-width="1.0"/>
<circle cx="315.3" cy="545.5" r="4.65" fill="#4463cc" stroke="#151a3a" stroke-width="1.0"/>
<circle cx="267.4" cy="573.7" r="4.65" fill="#4463cc" stroke="#151a3a" stroke-width="1.0"/>
<circle cx="255.5" cy="593.5" r="4.65" fill="#4463cc" stroke="#151a3a" stroke-width="1.0"/>
<circle cx="289.3" cy="591.1" r="4.65" fill="#4463cc" stroke="#151a3a" stroke-width="1.0"/>
<circle cx="182" cy="574.5" r="4.65" fill="#4463cc" stroke="#151a3a" stroke-width="1.0"/>
<circle cx="180.1" cy="580.2" r="4.65" fill="#4463cc" stroke="#151a3a" stroke-width="1.0"/>
<circle cx="194.8" cy="580.7" r="4.65" fill="#4463cc" stroke="#151a3a" stroke-width="1.0"/>
<circle cx="206.4" cy="606.7" r="4.65" fill="#4463cc" stroke="#151a3a" stroke-width="1.0"/>
<circle cx="212.3" cy="581.6" r="4.65" fill="#4463cc" stroke="#151a3a" stroke-width="1.0"/>
<circle cx="219.5" cy="578.8" r="4.65" fill="#4463cc" stroke="#151a3a" stroke-width="1.0"/>
<circle cx="223" cy="579.2" r="4.65" fill="#4463cc" stroke="#151a3a" stroke-width="1.0"/>
<circle cx="237.6" cy="574.8" r="4.65" fill="#4463cc" stroke="#151a3a" stroke-width="1.0"/>
<circle cx="238" cy="581" r="4.65" fill="#4463cc" stroke="#151a3a" stroke-width="1.0"/>
<circle cx="248.1" cy="583.6" r="4.65" fill="#4463cc" stroke="#151a3a" stroke-width="1.0"/>
<circle cx="240.7" cy="585.4" r="4.65" fill="#4463cc" stroke="#151a3a" stroke-width="1.0"/>
<circle cx="238" cy="596.4" r="4.65" fill="#4463cc" stroke="#151a3a" stroke-width="1.0"/>
<circle cx="233.9" cy="624.4" r="4.65" fill="#4463cc" stroke="#151a3a" stroke-width="1.0"/>
<circle cx="256" cy="648.1" r="4.65" fill="#4463cc" stroke="#151a3a" stroke-width="1.0"/>
<circle cx="172.9" cy="471.9" r="4.65" fill="#72d8f2" stroke="#151a3a" stroke-width="1.0"/>
<circle cx="212.5" cy="485.5" r="4.65" fill="#72d8f2" stroke="#151a3a" stroke-width="1.0"/>
<circle cx="182.4" cy="556.2" r="4.65" fill="#72d8f2" stroke="#151a3a" stroke-width="1.0"/>
<circle cx="230.1" cy="519" r="4.65" fill="#72d8f2" stroke="#151a3a" stroke-width="1.0"/>
<circle cx="221" cy="542.6" r="4.65" fill="#72d8f2" stroke="#151a3a" stroke-width="1.0"/>
<circle cx="218.8" cy="553.6" r="4.65" fill="#72d8f2" stroke="#151a3a" stroke-width="1.0"/>
<circle cx="243" cy="559.2" r="4.65" fill="#72d8f2" stroke="#151a3a" stroke-width="1.0"/>
<circle cx="294" cy="556.3" r="4.65" fill="#72d8f2" stroke="#151a3a" stroke-width="1.0"/>
<circle cx="181.1" cy="588.6" r="4.65" fill="#72d8f2" stroke="#151a3a" stroke-width="1.0"/>
<circle cx="244.6" cy="575.7" r="4.65" fill="#72d8f2" stroke="#151a3a" stroke-width="1.0"/>
<circle cx="254.9" cy="558.3" r="4.65" fill="#f6ee74" stroke="#151a3a" stroke-width="1.0"/>
<circle cx="274.9" cy="603.5" r="4.65" fill="#f6ee74" stroke="#151a3a" stroke-width="1.0"/>
<circle cx="232.3" cy="578.1" r="4.65" fill="#f6ee74" stroke="#151a3a" stroke-width="1.0"/>
<circle cx="232.7" cy="589.3" r="4.65" fill="#f6ee74" stroke="#151a3a" stroke-width="1.0"/>
<circle cx="220.8" cy="594.6" r="4.65" fill="#f6ee74" stroke="#151a3a" stroke-width="1.0"/>
<circle cx="149.4" cy="438.4" r="1.95" fill="#33d033" stroke="#14481a" stroke-width="0.65"/>
<circle cx="116.3" cy="454.6" r="1.95" fill="#33d033" stroke="#14481a" stroke-width="0.65"/>
<circle cx="133.1" cy="452.8" r="1.95" fill="#33d033" stroke="#14481a" stroke-width="0.65"/>
<circle cx="94.7" cy="460.1" r="1.95" fill="#33d033" stroke="#14481a" stroke-width="0.65"/>
<circle cx="120.2" cy="462" r="1.95" fill="#33d033" stroke="#14481a" stroke-width="0.65"/>
<circle cx="142.2" cy="462.4" r="1.95" fill="#33d033" stroke="#14481a" stroke-width="0.65"/>
<circle cx="126" cy="478.9" r="1.95" fill="#33d033" stroke="#14481a" stroke-width="0.65"/>
<circle cx="133.6" cy="485.9" r="1.95" fill="#33d033" stroke="#14481a" stroke-width="0.65"/>
<circle cx="120.7" cy="489.5" r="1.95" fill="#33d033" stroke="#14481a" stroke-width="0.65"/>
<circle cx="122" cy="489.1" r="1.95" fill="#33d033" stroke="#14481a" stroke-width="0.65"/>
<circle cx="126.4" cy="489.5" r="1.95" fill="#33d033" stroke="#14481a" stroke-width="0.65"/>
<circle cx="139.9" cy="490.9" r="1.95" fill="#33d033" stroke="#14481a" stroke-width="0.65"/>
<circle cx="149.8" cy="489.5" r="1.95" fill="#33d033" stroke="#14481a" stroke-width="0.65"/>
<circle cx="122.7" cy="494.4" r="1.95" fill="#33d033" stroke="#14481a" stroke-width="0.65"/>
<circle cx="139.6" cy="495.1" r="1.95" fill="#33d033" stroke="#14481a" stroke-width="0.65"/>
<circle cx="138.9" cy="497.4" r="1.95" fill="#33d033" stroke="#14481a" stroke-width="0.65"/>
<circle cx="127.4" cy="497.6" r="1.95" fill="#33d033" stroke="#14481a" stroke-width="0.65"/>
<circle cx="116.7" cy="502.8" r="1.95" fill="#33d033" stroke="#14481a" stroke-width="0.65"/>
<circle cx="125.5" cy="504.4" r="1.95" fill="#33d033" stroke="#14481a" stroke-width="0.65"/>
<circle cx="129.5" cy="503.2" r="1.95" fill="#33d033" stroke="#14481a" stroke-width="0.65"/>
<circle cx="132.5" cy="505" r="1.95" fill="#33d033" stroke="#14481a" stroke-width="0.65"/>
<circle cx="129.5" cy="507.1" r="1.95" fill="#33d033" stroke="#14481a" stroke-width="0.65"/>
<circle cx="119.3" cy="508.8" r="1.95" fill="#33d033" stroke="#14481a" stroke-width="0.65"/>
<circle cx="128.7" cy="509.7" r="1.95" fill="#33d033" stroke="#14481a" stroke-width="0.65"/>
<circle cx="138.7" cy="509.2" r="1.95" fill="#33d033" stroke="#14481a" stroke-width="0.65"/>
<circle cx="149.8" cy="509.2" r="1.95" fill="#33d033" stroke="#14481a" stroke-width="0.65"/>
<circle cx="103.3" cy="510.2" r="1.95" fill="#33d033" stroke="#14481a" stroke-width="0.65"/>
<circle cx="142.7" cy="511" r="1.95" fill="#33d033" stroke="#14481a" stroke-width="0.65"/>
<circle cx="177.6" cy="443.4" r="1.95" fill="#33d033" stroke="#14481a" stroke-width="0.65"/>
<circle cx="160.6" cy="486.9" r="1.95" fill="#33d033" stroke="#14481a" stroke-width="0.65"/>
<circle cx="166.2" cy="484.3" r="1.95" fill="#33d033" stroke="#14481a" stroke-width="0.65"/>
<circle cx="181.7" cy="487.8" r="1.95" fill="#33d033" stroke="#14481a" stroke-width="0.65"/>
<circle cx="172.9" cy="491.8" r="1.95" fill="#33d033" stroke="#14481a" stroke-width="0.65"/>
<circle cx="196.1" cy="495.4" r="1.95" fill="#33d033" stroke="#14481a" stroke-width="0.65"/>
<circle cx="218.7" cy="502.2" r="1.95" fill="#33d033" stroke="#14481a" stroke-width="0.65"/>
<circle cx="238" cy="500.5" r="1.95" fill="#33d033" stroke="#14481a" stroke-width="0.65"/>
<circle cx="153.5" cy="514.2" r="1.95" fill="#33d033" stroke="#14481a" stroke-width="0.65"/>
<circle cx="159.7" cy="515.1" r="1.95" fill="#33d033" stroke="#14481a" stroke-width="0.65"/>
<circle cx="222.2" cy="517.7" r="1.95" fill="#33d033" stroke="#14481a" stroke-width="0.65"/>
<circle cx="280.8" cy="517.7" r="1.95" fill="#33d033" stroke="#14481a" stroke-width="0.65"/>
<circle cx="99.6" cy="514.2" r="1.95" fill="#33d033" stroke="#14481a" stroke-width="0.65"/>
<circle cx="96.8" cy="518.1" r="1.95" fill="#33d033" stroke="#14481a" stroke-width="0.65"/>
<circle cx="109.7" cy="531.1" r="1.95" fill="#33d033" stroke="#14481a" stroke-width="0.65"/>
<circle cx="95.7" cy="537.7" r="1.95" fill="#33d033" stroke="#14481a" stroke-width="0.65"/>
<circle cx="99.4" cy="539.8" r="1.95" fill="#33d033" stroke="#14481a" stroke-width="0.65"/>
<circle cx="109.3" cy="539" r="1.95" fill="#33d033" stroke="#14481a" stroke-width="0.65"/>
<circle cx="109.3" cy="543.5" r="1.95" fill="#33d033" stroke="#14481a" stroke-width="0.65"/>
<circle cx="108" cy="547" r="1.95" fill="#33d033" stroke="#14481a" stroke-width="0.65"/>
<circle cx="98" cy="553" r="1.95" fill="#33d033" stroke="#14481a" stroke-width="0.65"/>
<circle cx="109.3" cy="553" r="1.95" fill="#33d033" stroke="#14481a" stroke-width="0.65"/>
<circle cx="104.9" cy="555.1" r="1.95" fill="#33d033" stroke="#14481a" stroke-width="0.65"/>
<circle cx="102.3" cy="557.5" r="1.95" fill="#33d033" stroke="#14481a" stroke-width="0.65"/>
<circle cx="82" cy="556.5" r="1.95" fill="#33d033" stroke="#14481a" stroke-width="0.65"/>
<circle cx="109.3" cy="558.9" r="1.95" fill="#33d033" stroke="#14481a" stroke-width="0.65"/>
<circle cx="128" cy="515.3" r="1.95" fill="#33d033" stroke="#14481a" stroke-width="0.65"/>
<circle cx="133.3" cy="515.7" r="1.95" fill="#33d033" stroke="#14481a" stroke-width="0.65"/>
<circle cx="138.2" cy="513.1" r="1.95" fill="#33d033" stroke="#14481a" stroke-width="0.65"/>
<circle cx="139.5" cy="516.6" r="1.95" fill="#33d033" stroke="#14481a" stroke-width="0.65"/>
<circle cx="153.1" cy="514" r="1.95" fill="#33d033" stroke="#14481a" stroke-width="0.65"/>
<circle cx="120.1" cy="518.4" r="1.95" fill="#33d033" stroke="#14481a" stroke-width="0.65"/>
<circle cx="127.2" cy="519.7" r="1.95" fill="#33d033" stroke="#14481a" stroke-width="0.65"/>
<circle cx="131.1" cy="520.4" r="1.95" fill="#33d033" stroke="#14481a" stroke-width="0.65"/>
<circle cx="134.6" cy="520.7" r="1.95" fill="#33d033" stroke="#14481a" stroke-width="0.65"/>
<circle cx="138.2" cy="519.7" r="1.95" fill="#33d033" stroke="#14481a" stroke-width="0.65"/>
<circle cx="141.3" cy="519.2" r="1.95" fill="#33d033" stroke="#14481a" stroke-width="0.65"/>
<circle cx="125" cy="522.8" r="1.95" fill="#33d033" stroke="#14481a" stroke-width="0.65"/>
<circle cx="130.7" cy="524.5" r="1.95" fill="#33d033" stroke="#14481a" stroke-width="0.65"/>
<circle cx="140.8" cy="525" r="1.95" fill="#33d033" stroke="#14481a" stroke-width="0.65"/>
<circle cx="148.7" cy="524.5" r="1.95" fill="#33d033" stroke="#14481a" stroke-width="0.65"/>
<circle cx="159.3" cy="521.4" r="1.95" fill="#33d033" stroke="#14481a" stroke-width="0.65"/>
<circle cx="135.5" cy="528.5" r="1.95" fill="#33d033" stroke="#14481a" stroke-width="0.65"/>
<circle cx="141.7" cy="528.5" r="1.95" fill="#33d033" stroke="#14481a" stroke-width="0.65"/>
<circle cx="145.2" cy="530.2" r="1.95" fill="#33d033" stroke="#14481a" stroke-width="0.65"/>
<circle cx="152.3" cy="528.5" r="1.95" fill="#33d033" stroke="#14481a" stroke-width="0.65"/>
<circle cx="113.5" cy="530.2" r="1.95" fill="#33d033" stroke="#14481a" stroke-width="0.65"/>
<circle cx="111.8" cy="532.9" r="1.95" fill="#33d033" stroke="#14481a" stroke-width="0.65"/>
<circle cx="116.2" cy="533.8" r="1.95" fill="#33d033" stroke="#14481a" stroke-width="0.65"/>
<circle cx="119.7" cy="533.1" r="1.95" fill="#33d033" stroke="#14481a" stroke-width="0.65"/>
<circle cx="121.9" cy="531.3" r="1.95" fill="#33d033" stroke="#14481a" stroke-width="0.65"/>
<circle cx="129.8" cy="530.7" r="1.95" fill="#33d033" stroke="#14481a" stroke-width="0.65"/>
<circle cx="128.5" cy="533.3" r="1.95" fill="#33d033" stroke="#14481a" stroke-width="0.65"/>
<circle cx="158" cy="531.1" r="1.95" fill="#33d033" stroke="#14481a" stroke-width="0.65"/>
<circle cx="157.1" cy="536" r="1.95" fill="#33d033" stroke="#14481a" stroke-width="0.65"/>
<circle cx="131.6" cy="536.4" r="1.95" fill="#33d033" stroke="#14481a" stroke-width="0.65"/>
<circle cx="134.6" cy="536.8" r="1.95" fill="#33d033" stroke="#14481a" stroke-width="0.65"/>
<circle cx="140.4" cy="538.2" r="1.95" fill="#33d033" stroke="#14481a" stroke-width="0.65"/>
<circle cx="148.7" cy="537.3" r="1.95" fill="#33d033" stroke="#14481a" stroke-width="0.65"/>
<circle cx="151.8" cy="536" r="1.95" fill="#33d033" stroke="#14481a" stroke-width="0.65"/>
<circle cx="159.3" cy="537.7" r="1.95" fill="#33d033" stroke="#14481a" stroke-width="0.65"/>
<circle cx="110.9" cy="539" r="1.95" fill="#33d033" stroke="#14481a" stroke-width="0.65"/>
<circle cx="134.2" cy="540.4" r="1.95" fill="#33d033" stroke="#14481a" stroke-width="0.65"/>
<circle cx="125.8" cy="540.8" r="1.95" fill="#33d033" stroke="#14481a" stroke-width="0.65"/>
<circle cx="128.9" cy="542.1" r="1.95" fill="#33d033" stroke="#14481a" stroke-width="0.65"/>
<circle cx="144.8" cy="541.3" r="1.95" fill="#33d033" stroke="#14481a" stroke-width="0.65"/>
<circle cx="147.9" cy="542.1" r="1.95" fill="#33d033" stroke="#14481a" stroke-width="0.65"/>
<circle cx="151.4" cy="539.9" r="1.95" fill="#33d033" stroke="#14481a" stroke-width="0.65"/>
<circle cx="155.3" cy="541.7" r="1.95" fill="#33d033" stroke="#14481a" stroke-width="0.65"/>
<circle cx="118.8" cy="541.7" r="1.95" fill="#33d033" stroke="#14481a" stroke-width="0.65"/>
<circle cx="110.9" cy="543.5" r="1.95" fill="#33d033" stroke="#14481a" stroke-width="0.65"/>
<circle cx="115.7" cy="544.3" r="1.95" fill="#33d033" stroke="#14481a" stroke-width="0.65"/>
<circle cx="137.3" cy="544.3" r="1.95" fill="#33d033" stroke="#14481a" stroke-width="0.65"/>
<circle cx="127.2" cy="545.2" r="1.95" fill="#33d033" stroke="#14481a" stroke-width="0.65"/>
<circle cx="130.2" cy="544.8" r="1.95" fill="#33d033" stroke="#14481a" stroke-width="0.65"/>
<circle cx="141.3" cy="545.2" r="1.95" fill="#33d033" stroke="#14481a" stroke-width="0.65"/>
<circle cx="154" cy="547" r="1.95" fill="#33d033" stroke="#14481a" stroke-width="0.65"/>
<circle cx="121" cy="548.7" r="1.95" fill="#33d033" stroke="#14481a" stroke-width="0.65"/>
<circle cx="123.2" cy="548.7" r="1.95" fill="#33d033" stroke="#14481a" stroke-width="0.65"/>
<circle cx="130.2" cy="550.1" r="1.95" fill="#33d033" stroke="#14481a" stroke-width="0.65"/>
<circle cx="143" cy="548.3" r="1.95" fill="#33d033" stroke="#14481a" stroke-width="0.65"/>
<circle cx="146.1" cy="548.3" r="1.95" fill="#33d033" stroke="#14481a" stroke-width="0.65"/>
<circle cx="128.9" cy="552.3" r="1.95" fill="#33d033" stroke="#14481a" stroke-width="0.65"/>
<circle cx="138.6" cy="551.4" r="1.95" fill="#33d033" stroke="#14481a" stroke-width="0.65"/>
<circle cx="143.5" cy="551.4" r="1.95" fill="#33d033" stroke="#14481a" stroke-width="0.65"/>
<circle cx="149.2" cy="552.7" r="1.95" fill="#33d033" stroke="#14481a" stroke-width="0.65"/>
<circle cx="110.9" cy="553.1" r="1.95" fill="#33d033" stroke="#14481a" stroke-width="0.65"/>
<circle cx="114.4" cy="553.6" r="1.95" fill="#33d033" stroke="#14481a" stroke-width="0.65"/>
<circle cx="120.6" cy="552.3" r="1.95" fill="#33d033" stroke="#14481a" stroke-width="0.65"/>
<circle cx="117" cy="555.8" r="1.95" fill="#33d033" stroke="#14481a" stroke-width="0.65"/>
<circle cx="120.6" cy="555.8" r="1.95" fill="#33d033" stroke="#14481a" stroke-width="0.65"/>
<circle cx="125" cy="555.8" r="1.95" fill="#33d033" stroke="#14481a" stroke-width="0.65"/>
<circle cx="134.6" cy="554.9" r="1.95" fill="#33d033" stroke="#14481a" stroke-width="0.65"/>
<circle cx="142.6" cy="554.9" r="1.95" fill="#33d033" stroke="#14481a" stroke-width="0.65"/>
<circle cx="154.9" cy="554" r="1.95" fill="#33d033" stroke="#14481a" stroke-width="0.65"/>
<circle cx="157.1" cy="553.1" r="1.95" fill="#33d033" stroke="#14481a" stroke-width="0.65"/>
<circle cx="111.8" cy="558" r="1.95" fill="#33d033" stroke="#14481a" stroke-width="0.65"/>
<circle cx="126.7" cy="558.2" r="1.95" fill="#33d033" stroke="#14481a" stroke-width="0.65"/>
<circle cx="134.6" cy="558.4" r="1.95" fill="#33d033" stroke="#14481a" stroke-width="0.65"/>
<circle cx="148.7" cy="558.2" r="1.95" fill="#33d033" stroke="#14481a" stroke-width="0.65"/>
<circle cx="167" cy="521" r="1.95" fill="#33d033" stroke="#14481a" stroke-width="0.65"/>
<circle cx="170.1" cy="518.4" r="1.95" fill="#33d033" stroke="#14481a" stroke-width="0.65"/>
<circle cx="179.5" cy="527.2" r="1.95" fill="#33d033" stroke="#14481a" stroke-width="0.65"/>
<circle cx="168.6" cy="533.3" r="1.95" fill="#33d033" stroke="#14481a" stroke-width="0.65"/>
<circle cx="195.4" cy="530.2" r="1.95" fill="#33d033" stroke="#14481a" stroke-width="0.65"/>
<circle cx="208.2" cy="536.8" r="1.95" fill="#33d033" stroke="#14481a" stroke-width="0.65"/>
<circle cx="181" cy="546.8" r="1.95" fill="#33d033" stroke="#14481a" stroke-width="0.65"/>
<circle cx="160.5" cy="547.4" r="1.95" fill="#33d033" stroke="#14481a" stroke-width="0.65"/>
<circle cx="193" cy="544.8" r="1.95" fill="#33d033" stroke="#14481a" stroke-width="0.65"/>
<circle cx="175.8" cy="554" r="1.95" fill="#33d033" stroke="#14481a" stroke-width="0.65"/>
<circle cx="196.5" cy="558.9" r="1.95" fill="#33d033" stroke="#14481a" stroke-width="0.65"/>
<circle cx="222.3" cy="518.1" r="1.95" fill="#33d033" stroke="#14481a" stroke-width="0.65"/>
<circle cx="217.5" cy="528" r="1.95" fill="#33d033" stroke="#14481a" stroke-width="0.65"/>
<circle cx="225.7" cy="529.8" r="1.95" fill="#33d033" stroke="#14481a" stroke-width="0.65"/>
<circle cx="237.1" cy="542.1" r="1.95" fill="#33d033" stroke="#14481a" stroke-width="0.65"/>
<circle cx="211.8" cy="552.3" r="1.95" fill="#33d033" stroke="#14481a" stroke-width="0.65"/>
<circle cx="274.2" cy="525.7" r="1.95" fill="#33d033" stroke="#14481a" stroke-width="0.65"/>
<circle cx="266.6" cy="555.8" r="1.95" fill="#33d033" stroke="#14481a" stroke-width="0.65"/>
<circle cx="257.9" cy="567.3" r="1.95" fill="#33d033" stroke="#14481a" stroke-width="0.65"/>
<circle cx="287.4" cy="569.2" r="1.95" fill="#33d033" stroke="#14481a" stroke-width="0.65"/>
<circle cx="263" cy="583.7" r="1.95" fill="#33d033" stroke="#14481a" stroke-width="0.65"/>
<circle cx="262.4" cy="599.8" r="1.95" fill="#33d033" stroke="#14481a" stroke-width="0.65"/>
<circle cx="297.2" cy="604.1" r="1.95" fill="#33d033" stroke="#14481a" stroke-width="0.65"/>
<circle cx="101.2" cy="562.6" r="1.95" fill="#33d033" stroke="#14481a" stroke-width="0.65"/>
<circle cx="105.8" cy="566.2" r="1.95" fill="#33d033" stroke="#14481a" stroke-width="0.65"/>
<circle cx="108.4" cy="567" r="1.95" fill="#33d033" stroke="#14481a" stroke-width="0.65"/>
<circle cx="108" cy="578.9" r="1.95" fill="#33d033" stroke="#14481a" stroke-width="0.65"/>
<circle cx="100.7" cy="580.7" r="1.95" fill="#33d033" stroke="#14481a" stroke-width="0.65"/>
<circle cx="94.3" cy="584.5" r="1.95" fill="#33d033" stroke="#14481a" stroke-width="0.65"/>
<circle cx="104.5" cy="584.8" r="1.95" fill="#33d033" stroke="#14481a" stroke-width="0.65"/>
<circle cx="97.4" cy="589.9" r="1.95" fill="#33d033" stroke="#14481a" stroke-width="0.65"/>
<circle cx="98" cy="595.4" r="1.95" fill="#33d033" stroke="#14481a" stroke-width="0.65"/>
<circle cx="109.3" cy="589" r="1.95" fill="#33d033" stroke="#14481a" stroke-width="0.65"/>
<circle cx="92.6" cy="603.1" r="1.95" fill="#33d033" stroke="#14481a" stroke-width="0.65"/>
<circle cx="108.9" cy="603.6" r="1.95" fill="#33d033" stroke="#14481a" stroke-width="0.65"/>
<circle cx="99.2" cy="606.8" r="1.95" fill="#33d033" stroke="#14481a" stroke-width="0.65"/>
<circle cx="114.8" cy="560.9" r="1.95" fill="#33d033" stroke="#14481a" stroke-width="0.65"/>
<circle cx="114" cy="564" r="1.95" fill="#33d033" stroke="#14481a" stroke-width="0.65"/>
<circle cx="121.9" cy="562.6" r="1.95" fill="#33d033" stroke="#14481a" stroke-width="0.65"/>
<circle cx="124.1" cy="564.8" r="1.95" fill="#33d033" stroke="#14481a" stroke-width="0.65"/>
<circle cx="129.4" cy="560.9" r="1.95" fill="#33d033" stroke="#14481a" stroke-width="0.65"/>
<circle cx="139.9" cy="560.9" r="1.95" fill="#33d033" stroke="#14481a" stroke-width="0.65"/>
<circle cx="143.5" cy="562.6" r="1.95" fill="#33d033" stroke="#14481a" stroke-width="0.65"/>
<circle cx="145.7" cy="564.8" r="1.95" fill="#33d033" stroke="#14481a" stroke-width="0.65"/>
<circle cx="140.4" cy="566.2" r="1.95" fill="#33d033" stroke="#14481a" stroke-width="0.65"/>
<circle cx="150.5" cy="561.3" r="1.95" fill="#33d033" stroke="#14481a" stroke-width="0.65"/>
<circle cx="150.9" cy="564.8" r="1.95" fill="#33d033" stroke="#14481a" stroke-width="0.65"/>
<circle cx="155.8" cy="565.7" r="1.95" fill="#33d033" stroke="#14481a" stroke-width="0.65"/>
<circle cx="153.1" cy="567.5" r="1.95" fill="#33d033" stroke="#14481a" stroke-width="0.65"/>
<circle cx="131.6" cy="566.2" r="1.95" fill="#33d033" stroke="#14481a" stroke-width="0.65"/>
<circle cx="126.7" cy="567.5" r="1.95" fill="#33d033" stroke="#14481a" stroke-width="0.65"/>
<circle cx="129.4" cy="567.9" r="1.95" fill="#33d033" stroke="#14481a" stroke-width="0.65"/>
<circle cx="111.8" cy="568.4" r="1.95" fill="#33d033" stroke="#14481a" stroke-width="0.65"/>
<circle cx="117" cy="567.9" r="1.95" fill="#33d033" stroke="#14481a" stroke-width="0.65"/>
<circle cx="118.8" cy="570.6" r="1.95" fill="#33d033" stroke="#14481a" stroke-width="0.65"/>
<circle cx="150.1" cy="570.1" r="1.95" fill="#33d033" stroke="#14481a" stroke-width="0.65"/>
<circle cx="154.9" cy="570.6" r="1.95" fill="#33d033" stroke="#14481a" stroke-width="0.65"/>
<circle cx="154.9" cy="572.3" r="1.95" fill="#33d033" stroke="#14481a" stroke-width="0.65"/>
<circle cx="119.7" cy="573.2" r="1.95" fill="#33d033" stroke="#14481a" stroke-width="0.65"/>
<circle cx="126.7" cy="574.1" r="1.95" fill="#33d033" stroke="#14481a" stroke-width="0.65"/>
<circle cx="139" cy="574.1" r="1.95" fill="#33d033" stroke="#14481a" stroke-width="0.65"/>
<circle cx="111.8" cy="575.8" r="1.95" fill="#33d033" stroke="#14481a" stroke-width="0.65"/>
<circle cx="139.9" cy="577.2" r="1.95" fill="#33d033" stroke="#14481a" stroke-width="0.65"/>
<circle cx="118.8" cy="577.2" r="1.95" fill="#33d033" stroke="#14481a" stroke-width="0.65"/>
<circle cx="115.3" cy="578" r="1.95" fill="#33d033" stroke="#14481a" stroke-width="0.65"/>
<circle cx="150.5" cy="577.6" r="1.95" fill="#33d033" stroke="#14481a" stroke-width="0.65"/>
<circle cx="143.5" cy="578.5" r="1.95" fill="#33d033" stroke="#14481a" stroke-width="0.65"/>
<circle cx="146.1" cy="579.4" r="1.95" fill="#33d033" stroke="#14481a" stroke-width="0.65"/>
<circle cx="158.9" cy="578.9" r="1.95" fill="#33d033" stroke="#14481a" stroke-width="0.65"/>
<circle cx="137.3" cy="580.2" r="1.95" fill="#33d033" stroke="#14481a" stroke-width="0.65"/>
<circle cx="124.1" cy="580.7" r="1.95" fill="#33d033" stroke="#14481a" stroke-width="0.65"/>
<circle cx="128.5" cy="580.2" r="1.95" fill="#33d033" stroke="#14481a" stroke-width="0.65"/>
<circle cx="131.6" cy="579.4" r="1.95" fill="#33d033" stroke="#14481a" stroke-width="0.65"/>
<circle cx="118.8" cy="582" r="1.95" fill="#33d033" stroke="#14481a" stroke-width="0.65"/>
<circle cx="122.3" cy="582.7" r="1.95" fill="#33d033" stroke="#14481a" stroke-width="0.65"/>
<circle cx="150.9" cy="581.6" r="1.95" fill="#33d033" stroke="#14481a" stroke-width="0.65"/>
<circle cx="154" cy="583.8" r="1.95" fill="#33d033" stroke="#14481a" stroke-width="0.65"/>
<circle cx="115.7" cy="584.2" r="1.95" fill="#33d033" stroke="#14481a" stroke-width="0.65"/>
<circle cx="129.8" cy="584.6" r="1.95" fill="#33d033" stroke="#14481a" stroke-width="0.65"/>
<circle cx="132.9" cy="586.8" r="1.95" fill="#33d033" stroke="#14481a" stroke-width="0.65"/>
<circle cx="110.9" cy="588.6" r="1.95" fill="#33d033" stroke="#14481a" stroke-width="0.65"/>
<circle cx="136" cy="589" r="1.95" fill="#33d033" stroke="#14481a" stroke-width="0.65"/>
<circle cx="140.8" cy="588.6" r="1.95" fill="#33d033" stroke="#14481a" stroke-width="0.65"/>
<circle cx="145.2" cy="589" r="1.95" fill="#33d033" stroke="#14481a" stroke-width="0.65"/>
<circle cx="121.4" cy="590.4" r="1.95" fill="#33d033" stroke="#14481a" stroke-width="0.65"/>
<circle cx="155.8" cy="590.4" r="1.95" fill="#33d033" stroke="#14481a" stroke-width="0.65"/>
<circle cx="140.8" cy="591.3" r="1.95" fill="#33d033" stroke="#14481a" stroke-width="0.65"/>
<circle cx="122.3" cy="593" r="1.95" fill="#33d033" stroke="#14481a" stroke-width="0.65"/>
<circle cx="131.6" cy="593" r="1.95" fill="#33d033" stroke="#14481a" stroke-width="0.65"/>
<circle cx="136" cy="593" r="1.95" fill="#33d033" stroke="#14481a" stroke-width="0.65"/>
<circle cx="153.1" cy="593.5" r="1.95" fill="#33d033" stroke="#14481a" stroke-width="0.65"/>
<circle cx="111.8" cy="594.3" r="1.95" fill="#33d033" stroke="#14481a" stroke-width="0.65"/>
<circle cx="125.8" cy="594.8" r="1.95" fill="#33d033" stroke="#14481a" stroke-width="0.65"/>
<circle cx="123.6" cy="596.1" r="1.95" fill="#33d033" stroke="#14481a" stroke-width="0.65"/>
<circle cx="140.8" cy="595.2" r="1.95" fill="#33d033" stroke="#14481a" stroke-width="0.65"/>
<circle cx="132.4" cy="596.1" r="1.95" fill="#33d033" stroke="#14481a" stroke-width="0.65"/>
<circle cx="151.8" cy="597" r="1.95" fill="#33d033" stroke="#14481a" stroke-width="0.65"/>
<circle cx="156.2" cy="596.1" r="1.95" fill="#33d033" stroke="#14481a" stroke-width="0.65"/>
<circle cx="131.6" cy="598.3" r="1.95" fill="#33d033" stroke="#14481a" stroke-width="0.65"/>
<circle cx="134.6" cy="598.7" r="1.95" fill="#33d033" stroke="#14481a" stroke-width="0.65"/>
<circle cx="159.3" cy="598.3" r="1.95" fill="#33d033" stroke="#14481a" stroke-width="0.65"/>
<circle cx="112.2" cy="600.1" r="1.95" fill="#33d033" stroke="#14481a" stroke-width="0.65"/>
<circle cx="132" cy="600.9" r="1.95" fill="#33d033" stroke="#14481a" stroke-width="0.65"/>
<circle cx="135.5" cy="601.4" r="1.95" fill="#33d033" stroke="#14481a" stroke-width="0.65"/>
<circle cx="148.7" cy="602.7" r="1.95" fill="#33d033" stroke="#14481a" stroke-width="0.65"/>
<circle cx="110.9" cy="603.6" r="1.95" fill="#33d033" stroke="#14481a" stroke-width="0.65"/>
<circle cx="120.1" cy="604" r="1.95" fill="#33d033" stroke="#14481a" stroke-width="0.65"/>
<circle cx="138.2" cy="604" r="1.95" fill="#33d033" stroke="#14481a" stroke-width="0.65"/>
<circle cx="115.3" cy="608.4" r="1.95" fill="#33d033" stroke="#14481a" stroke-width="0.65"/>
<circle cx="128" cy="608.4" r="1.95" fill="#33d033" stroke="#14481a" stroke-width="0.65"/>
<circle cx="140.8" cy="607.5" r="1.95" fill="#33d033" stroke="#14481a" stroke-width="0.65"/>
<circle cx="175.4" cy="562.6" r="1.95" fill="#33d033" stroke="#14481a" stroke-width="0.65"/>
<circle cx="167.9" cy="569.7" r="1.95" fill="#33d033" stroke="#14481a" stroke-width="0.65"/>
<circle cx="162.2" cy="573.6" r="1.95" fill="#33d033" stroke="#14481a" stroke-width="0.65"/>
<circle cx="167" cy="573.2" r="1.95" fill="#33d033" stroke="#14481a" stroke-width="0.65"/>
<circle cx="173.2" cy="573.4" r="1.95" fill="#33d033" stroke="#14481a" stroke-width="0.65"/>
<circle cx="164.8" cy="580.7" r="1.95" fill="#33d033" stroke="#14481a" stroke-width="0.65"/>
<circle cx="167.9" cy="581.6" r="1.95" fill="#33d033" stroke="#14481a" stroke-width="0.65"/>
<circle cx="173.6" cy="580.2" r="1.95" fill="#33d033" stroke="#14481a" stroke-width="0.65"/>
<circle cx="165.7" cy="585.5" r="1.95" fill="#33d033" stroke="#14481a" stroke-width="0.65"/>
<circle cx="170.6" cy="585.5" r="1.95" fill="#33d033" stroke="#14481a" stroke-width="0.65"/>
<circle cx="167" cy="588.6" r="1.95" fill="#33d033" stroke="#14481a" stroke-width="0.65"/>
<circle cx="204" cy="570.6" r="1.95" fill="#33d033" stroke="#14481a" stroke-width="0.65"/>
<circle cx="207.5" cy="572.3" r="1.95" fill="#33d033" stroke="#14481a" stroke-width="0.65"/>
<circle cx="163.1" cy="593" r="1.95" fill="#33d033" stroke="#14481a" stroke-width="0.65"/>
<circle cx="178.9" cy="592.4" r="1.95" fill="#33d033" stroke="#14481a" stroke-width="0.65"/>
<circle cx="178" cy="597.4" r="1.95" fill="#33d033" stroke="#14481a" stroke-width="0.65"/>
<circle cx="199.2" cy="595.7" r="1.95" fill="#33d033" stroke="#14481a" stroke-width="0.65"/>
<circle cx="163.1" cy="601.8" r="1.95" fill="#33d033" stroke="#14481a" stroke-width="0.65"/>
<circle cx="181.1" cy="606.7" r="1.95" fill="#33d033" stroke="#14481a" stroke-width="0.65"/>
<circle cx="192.1" cy="609.3" r="1.95" fill="#33d033" stroke="#14481a" stroke-width="0.65"/>
<circle cx="214.7" cy="564.2" r="1.95" fill="#33d033" stroke="#14481a" stroke-width="0.65"/>
<circle cx="217.3" cy="566.4" r="1.95" fill="#33d033" stroke="#14481a" stroke-width="0.65"/>
<circle cx="219.1" cy="569.1" r="1.95" fill="#33d033" stroke="#14481a" stroke-width="0.65"/>
<circle cx="230.5" cy="569.1" r="1.95" fill="#33d033" stroke="#14481a" stroke-width="0.65"/>
<circle cx="248.6" cy="564.7" r="1.95" fill="#33d033" stroke="#14481a" stroke-width="0.65"/>
<circle cx="216.9" cy="591.5" r="1.95" fill="#33d033" stroke="#14481a" stroke-width="0.65"/>
<circle cx="211.2" cy="595.1" r="1.95" fill="#33d033" stroke="#14481a" stroke-width="0.65"/>
<circle cx="238.9" cy="589.3" r="1.95" fill="#33d033" stroke="#14481a" stroke-width="0.65"/>
<circle cx="93.3" cy="621.7" r="1.95" fill="#33d033" stroke="#14481a" stroke-width="0.65"/>
<circle cx="104.7" cy="627.6" r="1.95" fill="#33d033" stroke="#14481a" stroke-width="0.65"/>
<circle cx="88.2" cy="631.1" r="1.95" fill="#33d033" stroke="#14481a" stroke-width="0.65"/>
<circle cx="96.3" cy="633.8" r="1.95" fill="#33d033" stroke="#14481a" stroke-width="0.65"/>
<circle cx="99.4" cy="653.1" r="1.95" fill="#33d033" stroke="#14481a" stroke-width="0.65"/>
<circle cx="125.4" cy="612" r="1.95" fill="#33d033" stroke="#14481a" stroke-width="0.65"/>
<circle cx="130.7" cy="611.6" r="1.95" fill="#33d033" stroke="#14481a" stroke-width="0.65"/>
<circle cx="134.2" cy="612.9" r="1.95" fill="#33d033" stroke="#14481a" stroke-width="0.65"/>
<circle cx="136" cy="613.8" r="1.95" fill="#33d033" stroke="#14481a" stroke-width="0.65"/>
<circle cx="128.5" cy="614.7" r="1.95" fill="#33d033" stroke="#14481a" stroke-width="0.65"/>
<circle cx="130.2" cy="616.9" r="1.95" fill="#33d033" stroke="#14481a" stroke-width="0.65"/>
<circle cx="145.2" cy="615.6" r="1.95" fill="#33d033" stroke="#14481a" stroke-width="0.65"/>
<circle cx="149.2" cy="616" r="1.95" fill="#33d033" stroke="#14481a" stroke-width="0.65"/>
<circle cx="152.7" cy="615.1" r="1.95" fill="#33d033" stroke="#14481a" stroke-width="0.65"/>
<circle cx="156.7" cy="616" r="1.95" fill="#33d033" stroke="#14481a" stroke-width="0.65"/>
<circle cx="158.4" cy="614.7" r="1.95" fill="#33d033" stroke="#14481a" stroke-width="0.65"/>
<circle cx="147.4" cy="618.6" r="1.95" fill="#33d033" stroke="#14481a" stroke-width="0.65"/>
<circle cx="121.4" cy="619.1" r="1.95" fill="#33d033" stroke="#14481a" stroke-width="0.65"/>
<circle cx="118.8" cy="621.3" r="1.95" fill="#33d033" stroke="#14481a" stroke-width="0.65"/>
<circle cx="122.8" cy="622.2" r="1.95" fill="#33d033" stroke="#14481a" stroke-width="0.65"/>
<circle cx="150.1" cy="621.7" r="1.95" fill="#33d033" stroke="#14481a" stroke-width="0.65"/>
<circle cx="153.6" cy="620.8" r="1.95" fill="#33d033" stroke="#14481a" stroke-width="0.65"/>
<circle cx="146.1" cy="623.5" r="1.95" fill="#33d033" stroke="#14481a" stroke-width="0.65"/>
<circle cx="132" cy="623.5" r="1.95" fill="#33d033" stroke="#14481a" stroke-width="0.65"/>
<circle cx="136.4" cy="624.5" r="1.95" fill="#33d033" stroke="#14481a" stroke-width="0.65"/>
<circle cx="111.8" cy="627.4" r="1.95" fill="#33d033" stroke="#14481a" stroke-width="0.65"/>
<circle cx="117.9" cy="627" r="1.95" fill="#33d033" stroke="#14481a" stroke-width="0.65"/>
<circle cx="131.1" cy="628.8" r="1.95" fill="#33d033" stroke="#14481a" stroke-width="0.65"/>
<circle cx="157.1" cy="627" r="1.95" fill="#33d033" stroke="#14481a" stroke-width="0.65"/>
<circle cx="152.3" cy="637.1" r="1.95" fill="#33d033" stroke="#14481a" stroke-width="0.65"/>
<circle cx="139.5" cy="640.2" r="1.95" fill="#33d033" stroke="#14481a" stroke-width="0.65"/>
<circle cx="141.9" cy="641.8" r="1.95" fill="#33d033" stroke="#14481a" stroke-width="0.65"/>
<circle cx="115.3" cy="645.1" r="1.95" fill="#33d033" stroke="#14481a" stroke-width="0.65"/>
<circle cx="138.2" cy="649" r="1.95" fill="#33d033" stroke="#14481a" stroke-width="0.65"/>
<circle cx="155.8" cy="649.5" r="1.95" fill="#33d033" stroke="#14481a" stroke-width="0.65"/>
<circle cx="150.9" cy="654.1" r="1.95" fill="#33d033" stroke="#14481a" stroke-width="0.65"/>
<circle cx="176.7" cy="615.9" r="1.95" fill="#33d033" stroke="#14481a" stroke-width="0.65"/>
<circle cx="175.5" cy="619.4" r="1.95" fill="#33d033" stroke="#14481a" stroke-width="0.65"/>
<circle cx="167.4" cy="623.5" r="1.95" fill="#33d033" stroke="#14481a" stroke-width="0.65"/>
<circle cx="204.9" cy="616.4" r="1.95" fill="#33d033" stroke="#14481a" stroke-width="0.65"/>
<circle cx="179.4" cy="634" r="1.95" fill="#33d033" stroke="#14481a" stroke-width="0.65"/>
<circle cx="186.4" cy="634.9" r="1.95" fill="#33d033" stroke="#14481a" stroke-width="0.65"/>
<circle cx="228.7" cy="641.4" r="1.95" fill="#33d033" stroke="#14481a" stroke-width="0.65"/>
<circle cx="251" cy="631.4" r="1.95" fill="#33d033" stroke="#14481a" stroke-width="0.65"/>
<circle cx="162.6" cy="654" r="1.95" fill="#33d033" stroke="#14481a" stroke-width="0.65"/>
<circle cx="181.7" cy="661.3" r="1.95" fill="#33d033" stroke="#14481a" stroke-width="0.65"/>
<circle cx="165.3" cy="675.4" r="1.95" fill="#33d033" stroke="#14481a" stroke-width="0.65"/>
<circle cx="191.2" cy="685.5" r="1.95" fill="#33d033" stroke="#14481a" stroke-width="0.65"/>
<circle cx="189.9" cy="696.5" r="1.95" fill="#33d033" stroke="#14481a" stroke-width="0.65"/>
<circle cx="150.1" cy="657.4" r="1.95" fill="#33d033" stroke="#14481a" stroke-width="0.65"/>
<circle cx="151.9" cy="659.2" r="1.95" fill="#33d033" stroke="#14481a" stroke-width="0.65"/>
<circle cx="116.3" cy="667.1" r="1.95" fill="#33d033" stroke="#14481a" stroke-width="0.65"/>
<circle cx="157.7" cy="674.6" r="1.95" fill="#33d033" stroke="#14481a" stroke-width="0.65"/>
<circle cx="150.1" cy="687.9" r="1.95" fill="#33d033" stroke="#14481a" stroke-width="0.65"/>
<circle cx="115.6" cy="694.4" r="1.95" fill="#33d033" stroke="#14481a" stroke-width="0.65"/>
<text x="10.4" y="401.6" font-size="11.6" font-weight="bold" text-anchor="start" fill="#000" stroke="#000" stroke-width="0.25" textLength="6.4" lengthAdjust="spacingAndGlyphs" >B</text>
<text x="29.9" y="401.6" font-size="11.6" font-weight="bold" text-anchor="start" fill="#000" stroke="#000" stroke-width="0.25" textLength="116.6" lengthAdjust="spacingAndGlyphs" >MLOS signature scores</text>
<text x="190" y="763.4" font-size="12.4" font-weight="bold" text-anchor="middle" fill="#000" stroke="#000" stroke-width="0.25" textLength="65.4" lengthAdjust="spacingAndGlyphs" >PC 1&#160; (15.8%)</text>
<text x="0" y="0" font-size="12.4" font-weight="bold" stroke="#000" stroke-width="0.25" text-anchor="middle" textLength="67.5" lengthAdjust="spacingAndGlyphs" transform="translate(18.9,562.9) rotate(-90)">PC 2&#160; (8.76%)</text>
<rect x="341.9" y="412.7" width="96.1" height="193.3" fill="#fff" stroke="#7a7a7a" stroke-width="1"/>
<line x1="341.9" y1="451.3" x2="438" y2="451.3" stroke="#7a7a7a" stroke-width="1"/>
<text x="390.2" y="437.4" font-size="12" font-weight="bold" text-anchor="middle" fill="#000" stroke="#000" stroke-width="0.25" textLength="76.1" lengthAdjust="spacingAndGlyphs" >Mutation Type</text>
<circle cx="347.3" cy="458" r="3.5" fill="#72d8f2" stroke="#151a3a" stroke-width="0.8"/>
<text x="354.1" y="461.3" font-size="9.5" font-weight="normal" text-anchor="start" fill="#3a3a3a" textLength="63.9" lengthAdjust="spacingAndGlyphs" >Non-synonymous</text>
<circle cx="347.3" cy="472" r="3.5" fill="#f6ee74" stroke="#151a3a" stroke-width="0.8"/>
<text x="354.1" y="475.3" font-size="9.5" font-weight="normal" text-anchor="start" fill="#3a3a3a" textLength="40.8" lengthAdjust="spacingAndGlyphs" >Splice Site</text>
<circle cx="347.3" cy="486" r="3.5" fill="#4463cc" stroke="#151a3a" stroke-width="0.8"/>
<text x="354.1" y="489.3" font-size="9.5" font-weight="normal" text-anchor="start" fill="#3a3a3a" textLength="39.4" lengthAdjust="spacingAndGlyphs" >Truncation</text>
<circle cx="347.3" cy="500" r="3.5" fill="#33d033" stroke="#151a3a" stroke-width="0.8"/>
<text x="354.1" y="503.3" font-size="9.5" font-weight="normal" text-anchor="start" fill="#3a3a3a" textLength="12.5" lengthAdjust="spacingAndGlyphs" >WT</text>
<line x1="88.65" y1="992.6" x2="271.86" y2="810.8" stroke="#b4b4b4" stroke-width="0.9"/>
<polyline points="264.9,817.4 197.3,817.4 196.5,819.6 159,819.6 159,824.3 147.2,824.3 147.2,826.1 136.6,826.1 135.4,827.2 133.9,829.9 132.8,833.5 132.2,838.8 131.8,842 129.7,843.5 127.5,844.7 126.1,847.3 124.4,851.1 123.3,855.3 120.8,855.7 120.1,859.9 119.7,866.3 119.1,872.6 118.7,880 117.6,883.2 115.5,886.3 113.8,888.5 113.4,893.7 113.1,897.8 111.7,902 111.3,909.1 111,921.8 109.9,924.6 108.2,928.1 107,935.8 105.8,942.9 104.6,949.9 102.5,954.2 100.8,959.1 99.4,959.8 98.3,966.8 97.2,972.5 96.2,979.5 95.2,985.1 94.9,986.5" fill="none" stroke="#000" stroke-width="1.5" stroke-linejoin="round"/>
<text x="109.9" y="990.6" font-size="11" font-weight="normal" text-anchor="start" fill="#000" textLength="194.3" lengthAdjust="spacingAndGlyphs" >AUC: 0.8777 (95% CI: 0.8454 - 0.9101)</text>
<rect x="55.1" y="810.8" width="249.6" height="181.8" fill="none" stroke="#5e5e5e" stroke-width="1"/>
<line x1="94.8" y1="992.6" x2="94.8" y2="999.6" stroke="#3a3a3a" stroke-width="1"/>
<text x="94.8" y="1018" font-size="11" font-weight="normal" text-anchor="middle" fill="#111" >1.0</text>
<line x1="128.76" y1="992.6" x2="128.76" y2="999.6" stroke="#3a3a3a" stroke-width="1"/>
<text x="128.76" y="1018" font-size="11" font-weight="normal" text-anchor="middle" fill="#111" >0.8</text>
<line x1="162.72" y1="992.6" x2="162.72" y2="999.6" stroke="#3a3a3a" stroke-width="1"/>
<text x="162.72" y="1018" font-size="11" font-weight="normal" text-anchor="middle" fill="#111" >0.6</text>
<line x1="196.68" y1="992.6" x2="196.68" y2="999.6" stroke="#3a3a3a" stroke-width="1"/>
<text x="196.68" y="1018" font-size="11" font-weight="normal" text-anchor="middle" fill="#111" >0.4</text>
<line x1="230.64" y1="992.6" x2="230.64" y2="999.6" stroke="#3a3a3a" stroke-width="1"/>
<text x="230.64" y="1018" font-size="11" font-weight="normal" text-anchor="middle" fill="#111" >0.2</text>
<line x1="264.6" y1="992.6" x2="264.6" y2="999.6" stroke="#3a3a3a" stroke-width="1"/>
<text x="264.6" y="1018" font-size="11" font-weight="normal" text-anchor="middle" fill="#111" >0.0</text>
<line x1="48.1" y1="986.5" x2="55.1" y2="986.5" stroke="#3a3a3a" stroke-width="1"/>
<text x="0" y="0" font-size="11" text-anchor="middle" fill="#111" transform="translate(39.7,986.5) rotate(-90)">0.0</text>
<line x1="48.1" y1="952.8" x2="55.1" y2="952.8" stroke="#3a3a3a" stroke-width="1"/>
<text x="0" y="0" font-size="11" text-anchor="middle" fill="#111" transform="translate(39.7,952.8) rotate(-90)">0.2</text>
<line x1="48.1" y1="919.1" x2="55.1" y2="919.1" stroke="#3a3a3a" stroke-width="1"/>
<text x="0" y="0" font-size="11" text-anchor="middle" fill="#111" transform="translate(39.7,919.1) rotate(-90)">0.4</text>
<line x1="48.1" y1="885.4" x2="55.1" y2="885.4" stroke="#3a3a3a" stroke-width="1"/>
<text x="0" y="0" font-size="11" text-anchor="middle" fill="#111" transform="translate(39.7,885.4) rotate(-90)">0.6</text>
<line x1="48.1" y1="851.7" x2="55.1" y2="851.7" stroke="#3a3a3a" stroke-width="1"/>
<text x="0" y="0" font-size="11" text-anchor="middle" fill="#111" transform="translate(39.7,851.7) rotate(-90)">0.8</text>
<line x1="48.1" y1="818" x2="55.1" y2="818" stroke="#3a3a3a" stroke-width="1"/>
<text x="0" y="0" font-size="11" text-anchor="middle" fill="#111" transform="translate(39.7,818) rotate(-90)">1.0</text>
<text x="179.4" y="1037.4" font-size="11" font-weight="normal" text-anchor="middle" fill="#111" textLength="50.2" lengthAdjust="spacingAndGlyphs" >Specificity</text>
<text x="0" y="0" font-size="11" text-anchor="middle" fill="#111" textLength="49.6" lengthAdjust="spacingAndGlyphs" transform="translate(19.0,901.7) rotate(-90)">Sensitivity</text>
<text x="10" y="792" font-size="11.6" font-weight="bold" text-anchor="start" fill="#000" stroke="#000" stroke-width="0.25" textLength="6.6" lengthAdjust="spacingAndGlyphs" >C</text>
<text x="30.6" y="792" font-size="11.6" font-weight="bold" text-anchor="start" fill="#000" stroke="#000" stroke-width="0.25" textLength="53.9" lengthAdjust="spacingAndGlyphs" >TCGA ROC</text>
<line x1="350.16" y1="992.8" x2="533.44" y2="810.6" stroke="#b4b4b4" stroke-width="0.9"/>
<polyline points="526.6,817 422.8,817 422.8,821.9 395.4,821.9 394.5,825.1 392.8,827.2 391.8,832 386.1,832 384.8,835.6 383.9,839.9 381.8,843 379.7,845.1 379.1,848.3 378.5,854.7 377.6,855.7 377.4,868.4 376.3,872.2 374.9,873 373.4,877.9 372.7,887.4 371.3,891.6 369.6,892 369.3,902.7 368.2,904.2 367,909.1 366.1,916.1 365.4,928.8 364.2,931.6 363.2,944.3 361.8,951.3 361.1,962.6 360,968.2 359,973.9 357.6,975.3 356.9,980.9 356.3,986.5" fill="none" stroke="#000" stroke-width="1.5" stroke-linejoin="round"/>
<text x="371.6" y="990.6" font-size="11" font-weight="normal" text-anchor="start" fill="#000" textLength="193.6" lengthAdjust="spacingAndGlyphs" >AUC: 0.9093 (95% CI: 0.8812 - 0.9374)</text>
<rect x="317.5" y="810.6" width="248.1" height="182.2" fill="none" stroke="#5e5e5e" stroke-width="1"/>
<line x1="356.6" y1="992.8" x2="356.6" y2="999.8" stroke="#3a3a3a" stroke-width="1"/>
<text x="356.6" y="1018" font-size="11" font-weight="normal" text-anchor="middle" fill="#111" >1.0</text>
<line x1="390.52" y1="992.8" x2="390.52" y2="999.8" stroke="#3a3a3a" stroke-width="1"/>
<text x="390.52" y="1018" font-size="11" font-weight="normal" text-anchor="middle" fill="#111" >0.8</text>
<line x1="424.44" y1="992.8" x2="424.44" y2="999.8" stroke="#3a3a3a" stroke-width="1"/>
<text x="424.44" y="1018" font-size="11" font-weight="normal" text-anchor="middle" fill="#111" >0.6</text>
<line x1="458.36" y1="992.8" x2="458.36" y2="999.8" stroke="#3a3a3a" stroke-width="1"/>
<text x="458.36" y="1018" font-size="11" font-weight="normal" text-anchor="middle" fill="#111" >0.4</text>
<line x1="492.28" y1="992.8" x2="492.28" y2="999.8" stroke="#3a3a3a" stroke-width="1"/>
<text x="492.28" y="1018" font-size="11" font-weight="normal" text-anchor="middle" fill="#111" >0.2</text>
<line x1="526.2" y1="992.8" x2="526.2" y2="999.8" stroke="#3a3a3a" stroke-width="1"/>
<text x="526.2" y="1018" font-size="11" font-weight="normal" text-anchor="middle" fill="#111" >0.0</text>
<line x1="310.5" y1="986.4" x2="317.5" y2="986.4" stroke="#3a3a3a" stroke-width="1"/>
<line x1="310.5" y1="952.68" x2="317.5" y2="952.68" stroke="#3a3a3a" stroke-width="1"/>
<line x1="310.5" y1="918.96" x2="317.5" y2="918.96" stroke="#3a3a3a" stroke-width="1"/>
<line x1="310.5" y1="885.24" x2="317.5" y2="885.24" stroke="#3a3a3a" stroke-width="1"/>
<line x1="310.5" y1="851.52" x2="317.5" y2="851.52" stroke="#3a3a3a" stroke-width="1"/>
<line x1="310.5" y1="817.8" x2="317.5" y2="817.8" stroke="#3a3a3a" stroke-width="1"/>
<text x="441" y="1037.4" font-size="11" font-weight="normal" text-anchor="middle" fill="#111" textLength="50.2" lengthAdjust="spacingAndGlyphs" >Specificity</text>
<text x="311.8" y="792" font-size="11.6" font-weight="bold" text-anchor="start" fill="#000" stroke="#000" stroke-width="0.25" textLength="5.8" lengthAdjust="spacingAndGlyphs" >D</text>
<text x="330.7" y="792" font-size="11.6" font-weight="bold" text-anchor="start" fill="#000" stroke="#000" stroke-width="0.25" textLength="55.8" lengthAdjust="spacingAndGlyphs" >MLOS ROC</text>
<line x1="0" y1="1047.5" x2="307" y2="1047.5" stroke="#ececec" stroke-width="1"/>
</svg>
</body></html>
